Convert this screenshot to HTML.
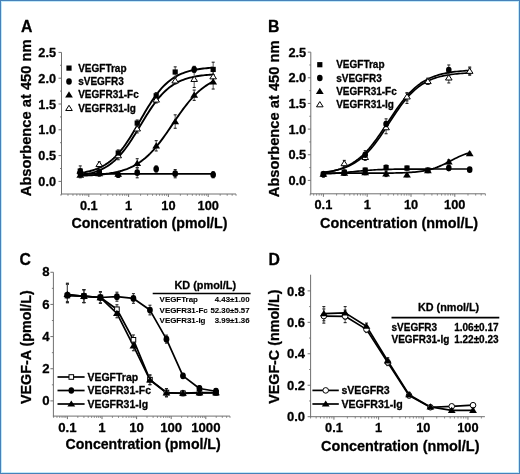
<!DOCTYPE html>
<html><head><meta charset="utf-8"><style>
html,body{margin:0;padding:0;background:#fff;}
#wrap{position:relative;width:520px;height:474px;overflow:hidden;font-family:"Liberation Sans", sans-serif;}
#wrap svg{position:absolute;left:0;top:0;display:block;will-change:transform;}
#frame{position:absolute;left:0;top:0;width:518px;height:472px;border:1px solid #4682b9;box-shadow:inset 0 0 0 1px #c2e8f9;}
</style></head><body><div id="wrap">
<svg width="520" height="474" viewBox="0 0 520 474" font-family='"Liberation Sans", sans-serif'>
<style>text{stroke:#000;stroke-width:0.28px;stroke-linejoin:round;}</style>
<rect x="0" y="0" width="520" height="474" fill="#fff"/>
<text x="20.9" y="31.7" font-size="15.8" text-anchor="start" font-weight="bold">A</text>
<line x1="61.50" y1="52.40" x2="61.50" y2="194.50" stroke="#707070" stroke-width="1" stroke-linecap="butt"/>
<line x1="58.50" y1="181.40" x2="61.50" y2="181.40" stroke="#707070" stroke-width="1" stroke-linecap="butt"/>
<text x="56.0" y="185.972" font-size="12.7" text-anchor="end" font-weight="bold">0.0</text>
<line x1="58.50" y1="155.60" x2="61.50" y2="155.60" stroke="#707070" stroke-width="1" stroke-linecap="butt"/>
<text x="56.0" y="160.172" font-size="12.7" text-anchor="end" font-weight="bold">0.5</text>
<line x1="58.50" y1="129.80" x2="61.50" y2="129.80" stroke="#707070" stroke-width="1" stroke-linecap="butt"/>
<text x="56.0" y="134.372" font-size="12.7" text-anchor="end" font-weight="bold">1.0</text>
<line x1="58.50" y1="104.00" x2="61.50" y2="104.00" stroke="#707070" stroke-width="1" stroke-linecap="butt"/>
<text x="56.0" y="108.572" font-size="12.7" text-anchor="end" font-weight="bold">1.5</text>
<line x1="58.50" y1="78.20" x2="61.50" y2="78.20" stroke="#707070" stroke-width="1" stroke-linecap="butt"/>
<text x="56.0" y="82.772" font-size="12.7" text-anchor="end" font-weight="bold">2.0</text>
<line x1="58.50" y1="52.40" x2="61.50" y2="52.40" stroke="#707070" stroke-width="1" stroke-linecap="butt"/>
<text x="56.0" y="56.97200000000001" font-size="12.7" text-anchor="end" font-weight="bold">2.5</text>
<line x1="60.00" y1="168.50" x2="61.50" y2="168.50" stroke="#707070" stroke-width="0.9" stroke-linecap="butt"/>
<line x1="60.00" y1="142.70" x2="61.50" y2="142.70" stroke="#707070" stroke-width="0.9" stroke-linecap="butt"/>
<line x1="60.00" y1="116.90" x2="61.50" y2="116.90" stroke="#707070" stroke-width="0.9" stroke-linecap="butt"/>
<line x1="60.00" y1="91.10" x2="61.50" y2="91.10" stroke="#707070" stroke-width="0.9" stroke-linecap="butt"/>
<line x1="60.00" y1="65.30" x2="61.50" y2="65.30" stroke="#707070" stroke-width="0.9" stroke-linecap="butt"/>
<line x1="61.00" y1="194.00" x2="236.02" y2="194.00" stroke="#707070" stroke-width="1" stroke-linecap="butt"/>
<line x1="60.98" y1="194.00" x2="60.98" y2="195.80" stroke="#707070" stroke-width="0.8" stroke-linecap="butt"/>
<line x1="67.99" y1="194.00" x2="67.99" y2="195.80" stroke="#707070" stroke-width="0.8" stroke-linecap="butt"/>
<line x1="72.96" y1="194.00" x2="72.96" y2="195.80" stroke="#707070" stroke-width="0.8" stroke-linecap="butt"/>
<line x1="76.82" y1="194.00" x2="76.82" y2="195.80" stroke="#707070" stroke-width="0.8" stroke-linecap="butt"/>
<line x1="79.97" y1="194.00" x2="79.97" y2="195.80" stroke="#707070" stroke-width="0.8" stroke-linecap="butt"/>
<line x1="82.63" y1="194.00" x2="82.63" y2="195.80" stroke="#707070" stroke-width="0.8" stroke-linecap="butt"/>
<line x1="84.94" y1="194.00" x2="84.94" y2="195.80" stroke="#707070" stroke-width="0.8" stroke-linecap="butt"/>
<line x1="86.98" y1="194.00" x2="86.98" y2="195.80" stroke="#707070" stroke-width="0.8" stroke-linecap="butt"/>
<line x1="88.80" y1="194.00" x2="88.80" y2="197.00" stroke="#707070" stroke-width="1" stroke-linecap="butt"/>
<line x1="100.78" y1="194.00" x2="100.78" y2="195.80" stroke="#707070" stroke-width="0.8" stroke-linecap="butt"/>
<line x1="107.79" y1="194.00" x2="107.79" y2="195.80" stroke="#707070" stroke-width="0.8" stroke-linecap="butt"/>
<line x1="112.76" y1="194.00" x2="112.76" y2="195.80" stroke="#707070" stroke-width="0.8" stroke-linecap="butt"/>
<line x1="116.62" y1="194.00" x2="116.62" y2="195.80" stroke="#707070" stroke-width="0.8" stroke-linecap="butt"/>
<line x1="119.77" y1="194.00" x2="119.77" y2="195.80" stroke="#707070" stroke-width="0.8" stroke-linecap="butt"/>
<line x1="122.43" y1="194.00" x2="122.43" y2="195.80" stroke="#707070" stroke-width="0.8" stroke-linecap="butt"/>
<line x1="124.74" y1="194.00" x2="124.74" y2="195.80" stroke="#707070" stroke-width="0.8" stroke-linecap="butt"/>
<line x1="126.78" y1="194.00" x2="126.78" y2="195.80" stroke="#707070" stroke-width="0.8" stroke-linecap="butt"/>
<line x1="128.60" y1="194.00" x2="128.60" y2="197.00" stroke="#707070" stroke-width="1" stroke-linecap="butt"/>
<line x1="140.58" y1="194.00" x2="140.58" y2="195.80" stroke="#707070" stroke-width="0.8" stroke-linecap="butt"/>
<line x1="147.59" y1="194.00" x2="147.59" y2="195.80" stroke="#707070" stroke-width="0.8" stroke-linecap="butt"/>
<line x1="152.56" y1="194.00" x2="152.56" y2="195.80" stroke="#707070" stroke-width="0.8" stroke-linecap="butt"/>
<line x1="156.42" y1="194.00" x2="156.42" y2="195.80" stroke="#707070" stroke-width="0.8" stroke-linecap="butt"/>
<line x1="159.57" y1="194.00" x2="159.57" y2="195.80" stroke="#707070" stroke-width="0.8" stroke-linecap="butt"/>
<line x1="162.23" y1="194.00" x2="162.23" y2="195.80" stroke="#707070" stroke-width="0.8" stroke-linecap="butt"/>
<line x1="164.54" y1="194.00" x2="164.54" y2="195.80" stroke="#707070" stroke-width="0.8" stroke-linecap="butt"/>
<line x1="166.58" y1="194.00" x2="166.58" y2="195.80" stroke="#707070" stroke-width="0.8" stroke-linecap="butt"/>
<line x1="168.40" y1="194.00" x2="168.40" y2="197.00" stroke="#707070" stroke-width="1" stroke-linecap="butt"/>
<line x1="180.38" y1="194.00" x2="180.38" y2="195.80" stroke="#707070" stroke-width="0.8" stroke-linecap="butt"/>
<line x1="187.39" y1="194.00" x2="187.39" y2="195.80" stroke="#707070" stroke-width="0.8" stroke-linecap="butt"/>
<line x1="192.36" y1="194.00" x2="192.36" y2="195.80" stroke="#707070" stroke-width="0.8" stroke-linecap="butt"/>
<line x1="196.22" y1="194.00" x2="196.22" y2="195.80" stroke="#707070" stroke-width="0.8" stroke-linecap="butt"/>
<line x1="199.37" y1="194.00" x2="199.37" y2="195.80" stroke="#707070" stroke-width="0.8" stroke-linecap="butt"/>
<line x1="202.03" y1="194.00" x2="202.03" y2="195.80" stroke="#707070" stroke-width="0.8" stroke-linecap="butt"/>
<line x1="204.34" y1="194.00" x2="204.34" y2="195.80" stroke="#707070" stroke-width="0.8" stroke-linecap="butt"/>
<line x1="206.38" y1="194.00" x2="206.38" y2="195.80" stroke="#707070" stroke-width="0.8" stroke-linecap="butt"/>
<line x1="208.20" y1="194.00" x2="208.20" y2="197.00" stroke="#707070" stroke-width="1" stroke-linecap="butt"/>
<line x1="220.18" y1="194.00" x2="220.18" y2="195.80" stroke="#707070" stroke-width="0.8" stroke-linecap="butt"/>
<line x1="227.19" y1="194.00" x2="227.19" y2="195.80" stroke="#707070" stroke-width="0.8" stroke-linecap="butt"/>
<line x1="232.16" y1="194.00" x2="232.16" y2="195.80" stroke="#707070" stroke-width="0.8" stroke-linecap="butt"/>
<line x1="236.02" y1="194.00" x2="236.02" y2="195.80" stroke="#707070" stroke-width="0.8" stroke-linecap="butt"/>
<text x="88.8" y="209.5" font-size="12.8" text-anchor="middle" font-weight="bold">0.1</text>
<text x="128.6" y="209.5" font-size="12.8" text-anchor="middle" font-weight="bold">1</text>
<text x="168.39999999999998" y="209.5" font-size="12.8" text-anchor="middle" font-weight="bold">10</text>
<text x="208.2" y="209.5" font-size="12.8" text-anchor="middle" font-weight="bold">100</text>
<text x="30.9" y="196.2" font-size="14.7" text-anchor="start" font-weight="bold" transform="rotate(-90 30.9 196.2)">Absorbence at 450 nm</text>
<text x="71.4" y="227.7" font-size="14.2" text-anchor="start" font-weight="bold">Concentration (pmol/L)</text>
<polyline points="80.25,172.99 81.91,172.74 83.57,172.46 85.23,172.15 86.89,171.80 88.55,171.42 90.22,171.00 91.88,170.54 93.54,170.03 95.20,169.46 96.86,168.84 98.52,168.16 100.19,167.42 101.85,166.60 103.51,165.71 105.17,164.73 106.83,163.67 108.49,162.52 110.15,161.26 111.82,159.91 113.48,158.44 115.14,156.87 116.80,155.18 118.46,153.37 120.12,151.44 121.79,149.40 123.45,147.24 125.11,144.96 126.77,142.58 128.43,140.09 130.09,137.51 131.76,134.84 133.42,132.10 135.08,129.29 136.74,126.45 138.40,123.57 140.06,120.67 141.72,117.78 143.39,114.91 145.05,112.07 146.71,109.28 148.37,106.56 150.03,103.91 151.69,101.34 153.36,98.88 155.02,96.52 156.68,94.27 158.34,92.13 160.00,90.11 161.66,88.22 163.33,86.43 164.99,84.77 166.65,83.22 168.31,81.78 169.97,80.45 171.63,79.22 173.29,78.08 174.96,77.04 176.62,76.09 178.28,75.21 179.94,74.41 181.60,73.68 183.26,73.02 184.93,72.41 186.59,71.86 188.25,71.36 189.91,70.91 191.57,70.49 193.23,70.12 194.90,69.79 196.56,69.48 198.22,69.21 199.88,68.96 201.54,68.73 203.20,68.53 204.86,68.35 206.53,68.18 208.19,68.03 209.85,67.90 211.51,67.78 213.17,67.67" fill="none" stroke="#000" stroke-width="1.9" stroke-linejoin="round"/>
<polyline points="80.25,175.14 81.91,174.90 83.57,174.64 85.23,174.36 86.89,174.04 88.55,173.69 90.22,173.30 91.88,172.87 93.54,172.40 95.20,171.88 96.86,171.31 98.52,170.68 100.19,169.99 101.85,169.23 103.51,168.40 105.17,167.50 106.83,166.51 108.49,165.44 110.15,164.27 111.82,163.01 113.48,161.64 115.14,160.18 116.80,158.60 118.46,156.91 120.12,155.10 121.79,153.19 123.45,151.16 125.11,149.02 126.77,146.77 128.43,144.43 130.09,141.99 131.76,139.46 133.42,136.86 135.08,134.20 136.74,131.49 138.40,128.75 140.06,125.99 141.72,123.22 143.39,120.47 145.05,117.74 146.71,115.06 148.37,112.43 150.03,109.88 151.69,107.40 153.36,105.02 155.02,102.73 156.68,100.54 158.34,98.47 160.00,96.50 161.66,94.65 163.33,92.92 164.99,91.29 166.65,89.78 168.31,88.37 169.97,87.07 171.63,85.86 173.29,84.75 174.96,83.73 176.62,82.79 178.28,81.93 179.94,81.15 181.60,80.43 183.26,79.78 184.93,79.18 186.59,78.64 188.25,78.15 189.91,77.70 191.57,77.30 193.23,76.93 194.90,76.60 196.56,76.30 198.22,76.03 199.88,75.78 201.54,75.56 203.20,75.36 204.86,75.18 206.53,75.02 208.19,74.87 209.85,74.74 211.51,74.62 213.17,74.52" fill="none" stroke="#000" stroke-width="1.9" stroke-linejoin="round"/>
<polyline points="80.25,175.69 81.91,175.64 83.57,175.58 85.23,175.51 86.89,175.44 88.55,175.36 90.22,175.28 91.88,175.18 93.54,175.08 95.20,174.97 96.86,174.84 98.52,174.71 100.19,174.56 101.85,174.39 103.51,174.21 105.17,174.02 106.83,173.80 108.49,173.57 110.15,173.31 111.82,173.03 113.48,172.73 115.14,172.39 116.80,172.03 118.46,171.63 120.12,171.20 121.79,170.73 123.45,170.21 125.11,169.65 126.77,169.05 128.43,168.39 130.09,167.68 131.76,166.91 133.42,166.08 135.08,165.18 136.74,164.21 138.40,163.17 140.06,162.06 141.72,160.87 143.39,159.59 145.05,158.23 146.71,156.78 148.37,155.25 150.03,153.62 151.69,151.91 153.36,150.11 155.02,148.22 156.68,146.25 158.34,144.20 160.00,142.07 161.66,139.87 163.33,137.61 164.99,135.29 166.65,132.93 168.31,130.53 169.97,128.10 171.63,125.65 173.29,123.20 174.96,120.75 176.62,118.31 178.28,115.90 179.94,113.53 181.60,111.20 183.26,108.92 184.93,106.71 186.59,104.56 188.25,102.49 189.91,100.50 191.57,98.59 193.23,96.77 194.90,95.04 196.56,93.39 198.22,91.83 199.88,90.36 201.54,88.98 203.20,87.69 204.86,86.47 206.53,85.34 208.19,84.28 209.85,83.30 211.51,82.38 213.17,81.54" fill="none" stroke="#000" stroke-width="1.9" stroke-linejoin="round"/>
<polyline points="80.25,173.92 213.17,173.92" fill="none" stroke="#000" stroke-width="1.9" stroke-linejoin="round"/>
<line x1="80.25" y1="165.92" x2="80.25" y2="176.24" stroke="#555" stroke-width="1" stroke-linecap="butt"/>
<line x1="78.75" y1="165.92" x2="81.75" y2="165.92" stroke="#222" stroke-width="1.1" stroke-linecap="butt"/>
<line x1="78.75" y1="176.24" x2="81.75" y2="176.24" stroke="#222" stroke-width="1.1" stroke-linecap="butt"/>
<line x1="99.24" y1="169.53" x2="99.24" y2="174.69" stroke="#555" stroke-width="1" stroke-linecap="butt"/>
<line x1="97.74" y1="169.53" x2="100.74" y2="169.53" stroke="#222" stroke-width="1.1" stroke-linecap="butt"/>
<line x1="97.74" y1="174.69" x2="100.74" y2="174.69" stroke="#222" stroke-width="1.1" stroke-linecap="butt"/>
<line x1="118.23" y1="149.92" x2="118.23" y2="156.12" stroke="#555" stroke-width="1" stroke-linecap="butt"/>
<line x1="116.73" y1="149.92" x2="119.73" y2="149.92" stroke="#222" stroke-width="1.1" stroke-linecap="butt"/>
<line x1="116.73" y1="156.12" x2="119.73" y2="156.12" stroke="#222" stroke-width="1.1" stroke-linecap="butt"/>
<line x1="137.21" y1="120.00" x2="137.21" y2="126.19" stroke="#555" stroke-width="1" stroke-linecap="butt"/>
<line x1="135.71" y1="120.00" x2="138.71" y2="120.00" stroke="#222" stroke-width="1.1" stroke-linecap="butt"/>
<line x1="135.71" y1="126.19" x2="138.71" y2="126.19" stroke="#222" stroke-width="1.1" stroke-linecap="butt"/>
<line x1="156.20" y1="92.65" x2="156.20" y2="98.84" stroke="#555" stroke-width="1" stroke-linecap="butt"/>
<line x1="154.70" y1="92.65" x2="157.70" y2="92.65" stroke="#222" stroke-width="1.1" stroke-linecap="butt"/>
<line x1="154.70" y1="98.84" x2="157.70" y2="98.84" stroke="#222" stroke-width="1.1" stroke-linecap="butt"/>
<line x1="175.19" y1="66.85" x2="175.19" y2="77.17" stroke="#555" stroke-width="1" stroke-linecap="butt"/>
<line x1="173.69" y1="66.85" x2="176.69" y2="66.85" stroke="#222" stroke-width="1.1" stroke-linecap="butt"/>
<line x1="173.69" y1="77.17" x2="176.69" y2="77.17" stroke="#222" stroke-width="1.1" stroke-linecap="butt"/>
<line x1="194.18" y1="66.33" x2="194.18" y2="72.52" stroke="#555" stroke-width="1" stroke-linecap="butt"/>
<line x1="192.68" y1="66.33" x2="195.68" y2="66.33" stroke="#222" stroke-width="1.1" stroke-linecap="butt"/>
<line x1="192.68" y1="72.52" x2="195.68" y2="72.52" stroke="#222" stroke-width="1.1" stroke-linecap="butt"/>
<line x1="213.17" y1="62.20" x2="213.17" y2="76.65" stroke="#555" stroke-width="1" stroke-linecap="butt"/>
<line x1="211.67" y1="62.20" x2="214.67" y2="62.20" stroke="#222" stroke-width="1.1" stroke-linecap="butt"/>
<line x1="211.67" y1="76.65" x2="214.67" y2="76.65" stroke="#222" stroke-width="1.1" stroke-linecap="butt"/>
<line x1="80.25" y1="170.05" x2="80.25" y2="176.24" stroke="#555" stroke-width="1" stroke-linecap="butt"/>
<line x1="78.75" y1="170.05" x2="81.75" y2="170.05" stroke="#222" stroke-width="1.1" stroke-linecap="butt"/>
<line x1="78.75" y1="176.24" x2="81.75" y2="176.24" stroke="#222" stroke-width="1.1" stroke-linecap="butt"/>
<line x1="99.24" y1="170.05" x2="99.24" y2="175.21" stroke="#555" stroke-width="1" stroke-linecap="butt"/>
<line x1="97.74" y1="170.05" x2="100.74" y2="170.05" stroke="#222" stroke-width="1.1" stroke-linecap="butt"/>
<line x1="97.74" y1="175.21" x2="100.74" y2="175.21" stroke="#222" stroke-width="1.1" stroke-linecap="butt"/>
<line x1="118.23" y1="172.11" x2="118.23" y2="177.27" stroke="#555" stroke-width="1" stroke-linecap="butt"/>
<line x1="116.73" y1="172.11" x2="119.73" y2="172.11" stroke="#222" stroke-width="1.1" stroke-linecap="butt"/>
<line x1="116.73" y1="177.27" x2="119.73" y2="177.27" stroke="#222" stroke-width="1.1" stroke-linecap="butt"/>
<line x1="137.21" y1="167.47" x2="137.21" y2="177.79" stroke="#555" stroke-width="1" stroke-linecap="butt"/>
<line x1="135.71" y1="167.47" x2="138.71" y2="167.47" stroke="#222" stroke-width="1.1" stroke-linecap="butt"/>
<line x1="135.71" y1="177.79" x2="138.71" y2="177.79" stroke="#222" stroke-width="1.1" stroke-linecap="butt"/>
<line x1="156.20" y1="165.92" x2="156.20" y2="172.11" stroke="#555" stroke-width="1" stroke-linecap="butt"/>
<line x1="154.70" y1="165.92" x2="157.70" y2="165.92" stroke="#222" stroke-width="1.1" stroke-linecap="butt"/>
<line x1="154.70" y1="172.11" x2="157.70" y2="172.11" stroke="#222" stroke-width="1.1" stroke-linecap="butt"/>
<line x1="175.19" y1="169.53" x2="175.19" y2="177.79" stroke="#555" stroke-width="1" stroke-linecap="butt"/>
<line x1="173.69" y1="169.53" x2="176.69" y2="169.53" stroke="#222" stroke-width="1.1" stroke-linecap="butt"/>
<line x1="173.69" y1="177.79" x2="176.69" y2="177.79" stroke="#222" stroke-width="1.1" stroke-linecap="butt"/>
<line x1="194.18" y1="66.85" x2="194.18" y2="72.01" stroke="#555" stroke-width="1" stroke-linecap="butt"/>
<line x1="192.68" y1="66.85" x2="195.68" y2="66.85" stroke="#222" stroke-width="1.1" stroke-linecap="butt"/>
<line x1="192.68" y1="72.01" x2="195.68" y2="72.01" stroke="#222" stroke-width="1.1" stroke-linecap="butt"/>
<line x1="213.17" y1="171.60" x2="213.17" y2="177.79" stroke="#555" stroke-width="1" stroke-linecap="butt"/>
<line x1="211.67" y1="171.60" x2="214.67" y2="171.60" stroke="#222" stroke-width="1.1" stroke-linecap="butt"/>
<line x1="211.67" y1="177.79" x2="214.67" y2="177.79" stroke="#222" stroke-width="1.1" stroke-linecap="butt"/>
<line x1="80.25" y1="172.63" x2="80.25" y2="177.79" stroke="#555" stroke-width="1" stroke-linecap="butt"/>
<line x1="78.75" y1="172.63" x2="81.75" y2="172.63" stroke="#222" stroke-width="1.1" stroke-linecap="butt"/>
<line x1="78.75" y1="177.79" x2="81.75" y2="177.79" stroke="#222" stroke-width="1.1" stroke-linecap="butt"/>
<line x1="99.24" y1="171.08" x2="99.24" y2="176.24" stroke="#555" stroke-width="1" stroke-linecap="butt"/>
<line x1="97.74" y1="171.08" x2="100.74" y2="171.08" stroke="#222" stroke-width="1.1" stroke-linecap="butt"/>
<line x1="97.74" y1="176.24" x2="100.74" y2="176.24" stroke="#222" stroke-width="1.1" stroke-linecap="butt"/>
<line x1="118.23" y1="171.60" x2="118.23" y2="176.76" stroke="#555" stroke-width="1" stroke-linecap="butt"/>
<line x1="116.73" y1="171.60" x2="119.73" y2="171.60" stroke="#222" stroke-width="1.1" stroke-linecap="butt"/>
<line x1="116.73" y1="176.76" x2="119.73" y2="176.76" stroke="#222" stroke-width="1.1" stroke-linecap="butt"/>
<line x1="137.21" y1="158.70" x2="137.21" y2="167.98" stroke="#555" stroke-width="1" stroke-linecap="butt"/>
<line x1="135.71" y1="158.70" x2="138.71" y2="158.70" stroke="#222" stroke-width="1.1" stroke-linecap="butt"/>
<line x1="135.71" y1="167.98" x2="138.71" y2="167.98" stroke="#222" stroke-width="1.1" stroke-linecap="butt"/>
<line x1="156.20" y1="140.64" x2="156.20" y2="150.96" stroke="#555" stroke-width="1" stroke-linecap="butt"/>
<line x1="154.70" y1="140.64" x2="157.70" y2="140.64" stroke="#222" stroke-width="1.1" stroke-linecap="butt"/>
<line x1="154.70" y1="150.96" x2="157.70" y2="150.96" stroke="#222" stroke-width="1.1" stroke-linecap="butt"/>
<line x1="175.19" y1="114.84" x2="175.19" y2="128.25" stroke="#555" stroke-width="1" stroke-linecap="butt"/>
<line x1="173.69" y1="114.84" x2="176.69" y2="114.84" stroke="#222" stroke-width="1.1" stroke-linecap="butt"/>
<line x1="173.69" y1="128.25" x2="176.69" y2="128.25" stroke="#222" stroke-width="1.1" stroke-linecap="butt"/>
<line x1="194.18" y1="90.07" x2="194.18" y2="100.39" stroke="#555" stroke-width="1" stroke-linecap="butt"/>
<line x1="192.68" y1="90.07" x2="195.68" y2="90.07" stroke="#222" stroke-width="1.1" stroke-linecap="butt"/>
<line x1="192.68" y1="100.39" x2="195.68" y2="100.39" stroke="#222" stroke-width="1.1" stroke-linecap="butt"/>
<line x1="213.17" y1="74.59" x2="213.17" y2="89.04" stroke="#555" stroke-width="1" stroke-linecap="butt"/>
<line x1="211.67" y1="74.59" x2="214.67" y2="74.59" stroke="#222" stroke-width="1.1" stroke-linecap="butt"/>
<line x1="211.67" y1="89.04" x2="214.67" y2="89.04" stroke="#222" stroke-width="1.1" stroke-linecap="butt"/>
<line x1="80.25" y1="168.50" x2="80.25" y2="173.66" stroke="#555" stroke-width="1" stroke-linecap="butt"/>
<line x1="78.75" y1="168.50" x2="81.75" y2="168.50" stroke="#222" stroke-width="1.1" stroke-linecap="butt"/>
<line x1="78.75" y1="173.66" x2="81.75" y2="173.66" stroke="#222" stroke-width="1.1" stroke-linecap="butt"/>
<line x1="99.24" y1="161.79" x2="99.24" y2="166.95" stroke="#555" stroke-width="1" stroke-linecap="butt"/>
<line x1="97.74" y1="161.79" x2="100.74" y2="161.79" stroke="#222" stroke-width="1.1" stroke-linecap="butt"/>
<line x1="97.74" y1="166.95" x2="100.74" y2="166.95" stroke="#222" stroke-width="1.1" stroke-linecap="butt"/>
<line x1="118.23" y1="151.47" x2="118.23" y2="159.73" stroke="#555" stroke-width="1" stroke-linecap="butt"/>
<line x1="116.73" y1="151.47" x2="119.73" y2="151.47" stroke="#222" stroke-width="1.1" stroke-linecap="butt"/>
<line x1="116.73" y1="159.73" x2="119.73" y2="159.73" stroke="#222" stroke-width="1.1" stroke-linecap="butt"/>
<line x1="137.21" y1="124.64" x2="137.21" y2="132.90" stroke="#555" stroke-width="1" stroke-linecap="butt"/>
<line x1="135.71" y1="124.64" x2="138.71" y2="124.64" stroke="#222" stroke-width="1.1" stroke-linecap="butt"/>
<line x1="135.71" y1="132.90" x2="138.71" y2="132.90" stroke="#222" stroke-width="1.1" stroke-linecap="butt"/>
<line x1="156.20" y1="96.78" x2="156.20" y2="102.97" stroke="#555" stroke-width="1" stroke-linecap="butt"/>
<line x1="154.70" y1="96.78" x2="157.70" y2="96.78" stroke="#222" stroke-width="1.1" stroke-linecap="butt"/>
<line x1="154.70" y1="102.97" x2="157.70" y2="102.97" stroke="#222" stroke-width="1.1" stroke-linecap="butt"/>
<line x1="175.19" y1="77.68" x2="175.19" y2="83.88" stroke="#555" stroke-width="1" stroke-linecap="butt"/>
<line x1="173.69" y1="77.68" x2="176.69" y2="77.68" stroke="#222" stroke-width="1.1" stroke-linecap="butt"/>
<line x1="173.69" y1="83.88" x2="176.69" y2="83.88" stroke="#222" stroke-width="1.1" stroke-linecap="butt"/>
<line x1="194.18" y1="70.98" x2="194.18" y2="87.49" stroke="#555" stroke-width="1" stroke-linecap="butt"/>
<line x1="192.68" y1="70.98" x2="195.68" y2="70.98" stroke="#222" stroke-width="1.1" stroke-linecap="butt"/>
<line x1="192.68" y1="87.49" x2="195.68" y2="87.49" stroke="#222" stroke-width="1.1" stroke-linecap="butt"/>
<line x1="213.17" y1="71.49" x2="213.17" y2="81.81" stroke="#555" stroke-width="1" stroke-linecap="butt"/>
<line x1="211.67" y1="71.49" x2="214.67" y2="71.49" stroke="#222" stroke-width="1.1" stroke-linecap="butt"/>
<line x1="211.67" y1="81.81" x2="214.67" y2="81.81" stroke="#222" stroke-width="1.1" stroke-linecap="butt"/>
<polygon points="80.25,168.06 76.95,173.30 83.55,173.30" fill="#fff" stroke="#000" stroke-width="1" stroke-linejoin="miter"/>
<polygon points="80.25,171.59 76.35,177.83 84.15,177.83" fill="#000"/>
<ellipse cx="80.25" cy="173.14" rx="2.8" ry="3.3" fill="#000"/>
<rect x="77.65" y="168.48" width="5.2" height="5.2" fill="#000"/>
<polygon points="99.24,161.35 95.94,166.59 102.54,166.59" fill="#fff" stroke="#000" stroke-width="1" stroke-linejoin="miter"/>
<polygon points="99.24,170.04 95.34,176.28 103.14,176.28" fill="#000"/>
<ellipse cx="99.24" cy="172.63" rx="2.8" ry="3.3" fill="#000"/>
<rect x="96.64" y="169.51" width="5.2" height="5.2" fill="#000"/>
<polygon points="118.23,152.58 114.93,157.82 121.53,157.82" fill="#fff" stroke="#000" stroke-width="1" stroke-linejoin="miter"/>
<polygon points="118.23,170.56 114.33,176.80 122.13,176.80" fill="#000"/>
<ellipse cx="118.23" cy="174.69" rx="2.8" ry="3.3" fill="#000"/>
<rect x="115.63" y="150.42" width="5.2" height="5.2" fill="#000"/>
<polygon points="137.21,125.75 133.91,130.99 140.51,130.99" fill="#fff" stroke="#000" stroke-width="1" stroke-linejoin="miter"/>
<polygon points="137.21,159.72 133.31,165.96 141.11,165.96" fill="#000"/>
<ellipse cx="137.21" cy="172.63" rx="2.8" ry="3.3" fill="#000"/>
<rect x="134.61" y="120.49" width="5.2" height="5.2" fill="#000"/>
<polygon points="156.20,96.85 152.90,102.09 159.50,102.09" fill="#fff" stroke="#000" stroke-width="1" stroke-linejoin="miter"/>
<polygon points="156.20,142.18 152.30,148.42 160.10,148.42" fill="#000"/>
<ellipse cx="156.20" cy="169.02" rx="2.8" ry="3.3" fill="#000"/>
<rect x="153.60" y="93.14" width="5.2" height="5.2" fill="#000"/>
<polygon points="175.19,77.76 171.89,83.00 178.49,83.00" fill="#fff" stroke="#000" stroke-width="1" stroke-linejoin="miter"/>
<polygon points="175.19,117.92 171.29,124.16 179.09,124.16" fill="#000"/>
<ellipse cx="175.19" cy="173.66" rx="2.8" ry="3.3" fill="#000"/>
<rect x="172.59" y="69.41" width="5.2" height="5.2" fill="#000"/>
<polygon points="194.18,76.21 190.88,81.45 197.48,81.45" fill="#fff" stroke="#000" stroke-width="1" stroke-linejoin="miter"/>
<polygon points="194.18,91.61 190.28,97.85 198.08,97.85" fill="#000"/>
<ellipse cx="194.18" cy="69.43" rx="2.8" ry="3.3" fill="#000"/>
<polygon points="213.17,73.63 209.87,78.87 216.47,78.87" fill="#fff" stroke="#000" stroke-width="1" stroke-linejoin="miter"/>
<polygon points="213.17,78.19 209.27,84.43 217.07,84.43" fill="#000"/>
<ellipse cx="213.17" cy="174.69" rx="2.8" ry="3.3" fill="#000"/>
<rect x="210.57" y="66.83" width="5.2" height="5.2" fill="#000"/>
<rect x="66.40" y="65.50" width="5.2" height="5.2" fill="#000"/>
<text x="78.2" y="71.6" font-size="10" text-anchor="start" font-weight="bold">VEGFTrap</text>
<ellipse cx="69.00" cy="81.50" rx="2.8" ry="3.3" fill="#000"/>
<text x="78.2" y="85.0" font-size="10" text-anchor="start" font-weight="bold">sVEGFR3</text>
<polygon points="69.00,91.28 65.10,97.52 72.90,97.52" fill="#000"/>
<text x="78.2" y="98.39999999999999" font-size="10" text-anchor="start" font-weight="bold">VEGFR31-Fc</text>
<polygon points="69.00,105.28 65.70,110.52 72.30,110.52" fill="#fff" stroke="#000" stroke-width="1" stroke-linejoin="miter"/>
<text x="78.2" y="111.8" font-size="10" text-anchor="start" font-weight="bold">VEGFR31-Ig</text>
<text x="268.0" y="31.7" font-size="15.8" text-anchor="start" font-weight="bold">B</text>
<line x1="310.80" y1="52.15" x2="310.80" y2="194.30" stroke="#707070" stroke-width="1" stroke-linecap="butt"/>
<line x1="307.80" y1="180.40" x2="310.80" y2="180.40" stroke="#707070" stroke-width="1" stroke-linecap="butt"/>
<text x="306.2" y="185.008" font-size="12.8" text-anchor="end" font-weight="bold">0.0</text>
<line x1="307.80" y1="154.75" x2="310.80" y2="154.75" stroke="#707070" stroke-width="1" stroke-linecap="butt"/>
<text x="306.2" y="159.358" font-size="12.8" text-anchor="end" font-weight="bold">0.5</text>
<line x1="307.80" y1="129.10" x2="310.80" y2="129.10" stroke="#707070" stroke-width="1" stroke-linecap="butt"/>
<text x="306.2" y="133.70800000000003" font-size="12.8" text-anchor="end" font-weight="bold">1.0</text>
<line x1="307.80" y1="103.45" x2="310.80" y2="103.45" stroke="#707070" stroke-width="1" stroke-linecap="butt"/>
<text x="306.2" y="108.05800000000002" font-size="12.8" text-anchor="end" font-weight="bold">1.5</text>
<line x1="307.80" y1="77.80" x2="310.80" y2="77.80" stroke="#707070" stroke-width="1" stroke-linecap="butt"/>
<text x="306.2" y="82.40800000000002" font-size="12.8" text-anchor="end" font-weight="bold">2.0</text>
<line x1="307.80" y1="52.15" x2="310.80" y2="52.15" stroke="#707070" stroke-width="1" stroke-linecap="butt"/>
<text x="306.2" y="56.758" font-size="12.8" text-anchor="end" font-weight="bold">2.5</text>
<line x1="309.30" y1="167.58" x2="310.80" y2="167.58" stroke="#707070" stroke-width="0.9" stroke-linecap="butt"/>
<line x1="309.30" y1="141.93" x2="310.80" y2="141.93" stroke="#707070" stroke-width="0.9" stroke-linecap="butt"/>
<line x1="309.30" y1="116.28" x2="310.80" y2="116.28" stroke="#707070" stroke-width="0.9" stroke-linecap="butt"/>
<line x1="309.30" y1="90.63" x2="310.80" y2="90.63" stroke="#707070" stroke-width="0.9" stroke-linecap="butt"/>
<line x1="309.30" y1="64.98" x2="310.80" y2="64.98" stroke="#707070" stroke-width="0.9" stroke-linecap="butt"/>
<line x1="310.30" y1="193.80" x2="485.41" y2="193.80" stroke="#707070" stroke-width="1" stroke-linecap="butt"/>
<line x1="310.21" y1="193.80" x2="310.21" y2="195.60" stroke="#707070" stroke-width="0.8" stroke-linecap="butt"/>
<line x1="313.68" y1="193.80" x2="313.68" y2="195.60" stroke="#707070" stroke-width="0.8" stroke-linecap="butt"/>
<line x1="316.62" y1="193.80" x2="316.62" y2="195.60" stroke="#707070" stroke-width="0.8" stroke-linecap="butt"/>
<line x1="319.16" y1="193.80" x2="319.16" y2="195.60" stroke="#707070" stroke-width="0.8" stroke-linecap="butt"/>
<line x1="321.40" y1="193.80" x2="321.40" y2="195.60" stroke="#707070" stroke-width="0.8" stroke-linecap="butt"/>
<line x1="323.40" y1="193.80" x2="323.40" y2="196.80" stroke="#707070" stroke-width="1" stroke-linecap="butt"/>
<line x1="336.59" y1="193.80" x2="336.59" y2="195.60" stroke="#707070" stroke-width="0.8" stroke-linecap="butt"/>
<line x1="344.30" y1="193.80" x2="344.30" y2="195.60" stroke="#707070" stroke-width="0.8" stroke-linecap="butt"/>
<line x1="349.77" y1="193.80" x2="349.77" y2="195.60" stroke="#707070" stroke-width="0.8" stroke-linecap="butt"/>
<line x1="354.01" y1="193.80" x2="354.01" y2="195.60" stroke="#707070" stroke-width="0.8" stroke-linecap="butt"/>
<line x1="357.48" y1="193.80" x2="357.48" y2="195.60" stroke="#707070" stroke-width="0.8" stroke-linecap="butt"/>
<line x1="360.42" y1="193.80" x2="360.42" y2="195.60" stroke="#707070" stroke-width="0.8" stroke-linecap="butt"/>
<line x1="362.96" y1="193.80" x2="362.96" y2="195.60" stroke="#707070" stroke-width="0.8" stroke-linecap="butt"/>
<line x1="365.20" y1="193.80" x2="365.20" y2="195.60" stroke="#707070" stroke-width="0.8" stroke-linecap="butt"/>
<line x1="367.20" y1="193.80" x2="367.20" y2="196.80" stroke="#707070" stroke-width="1" stroke-linecap="butt"/>
<line x1="380.39" y1="193.80" x2="380.39" y2="195.60" stroke="#707070" stroke-width="0.8" stroke-linecap="butt"/>
<line x1="388.10" y1="193.80" x2="388.10" y2="195.60" stroke="#707070" stroke-width="0.8" stroke-linecap="butt"/>
<line x1="393.57" y1="193.80" x2="393.57" y2="195.60" stroke="#707070" stroke-width="0.8" stroke-linecap="butt"/>
<line x1="397.81" y1="193.80" x2="397.81" y2="195.60" stroke="#707070" stroke-width="0.8" stroke-linecap="butt"/>
<line x1="401.28" y1="193.80" x2="401.28" y2="195.60" stroke="#707070" stroke-width="0.8" stroke-linecap="butt"/>
<line x1="404.22" y1="193.80" x2="404.22" y2="195.60" stroke="#707070" stroke-width="0.8" stroke-linecap="butt"/>
<line x1="406.76" y1="193.80" x2="406.76" y2="195.60" stroke="#707070" stroke-width="0.8" stroke-linecap="butt"/>
<line x1="409.00" y1="193.80" x2="409.00" y2="195.60" stroke="#707070" stroke-width="0.8" stroke-linecap="butt"/>
<line x1="411.00" y1="193.80" x2="411.00" y2="196.80" stroke="#707070" stroke-width="1" stroke-linecap="butt"/>
<line x1="424.19" y1="193.80" x2="424.19" y2="195.60" stroke="#707070" stroke-width="0.8" stroke-linecap="butt"/>
<line x1="431.90" y1="193.80" x2="431.90" y2="195.60" stroke="#707070" stroke-width="0.8" stroke-linecap="butt"/>
<line x1="437.37" y1="193.80" x2="437.37" y2="195.60" stroke="#707070" stroke-width="0.8" stroke-linecap="butt"/>
<line x1="441.61" y1="193.80" x2="441.61" y2="195.60" stroke="#707070" stroke-width="0.8" stroke-linecap="butt"/>
<line x1="445.08" y1="193.80" x2="445.08" y2="195.60" stroke="#707070" stroke-width="0.8" stroke-linecap="butt"/>
<line x1="448.02" y1="193.80" x2="448.02" y2="195.60" stroke="#707070" stroke-width="0.8" stroke-linecap="butt"/>
<line x1="450.56" y1="193.80" x2="450.56" y2="195.60" stroke="#707070" stroke-width="0.8" stroke-linecap="butt"/>
<line x1="452.80" y1="193.80" x2="452.80" y2="195.60" stroke="#707070" stroke-width="0.8" stroke-linecap="butt"/>
<line x1="454.80" y1="193.80" x2="454.80" y2="196.80" stroke="#707070" stroke-width="1" stroke-linecap="butt"/>
<line x1="467.99" y1="193.80" x2="467.99" y2="195.60" stroke="#707070" stroke-width="0.8" stroke-linecap="butt"/>
<line x1="475.70" y1="193.80" x2="475.70" y2="195.60" stroke="#707070" stroke-width="0.8" stroke-linecap="butt"/>
<line x1="481.17" y1="193.80" x2="481.17" y2="195.60" stroke="#707070" stroke-width="0.8" stroke-linecap="butt"/>
<line x1="485.41" y1="193.80" x2="485.41" y2="195.60" stroke="#707070" stroke-width="0.8" stroke-linecap="butt"/>
<text x="323.4" y="209.3" font-size="12.8" text-anchor="middle" font-weight="bold">0.1</text>
<text x="367.2" y="209.3" font-size="12.8" text-anchor="middle" font-weight="bold">1</text>
<text x="411.0" y="209.3" font-size="12.8" text-anchor="middle" font-weight="bold">10</text>
<text x="454.79999999999995" y="209.3" font-size="12.8" text-anchor="middle" font-weight="bold">100</text>
<text x="279.2" y="197.2" font-size="14.7" text-anchor="start" font-weight="bold" transform="rotate(-90 279.2 197.2)">Absorbence at 450 nm</text>
<text x="320.0" y="227.8" font-size="14.38" text-anchor="start" font-weight="bold">Concentration (nmol/L)</text>
<polyline points="323.40,172.78 325.23,172.51 327.06,172.21 328.89,171.88 330.71,171.51 332.54,171.11 334.37,170.66 336.20,170.17 338.03,169.64 339.86,169.05 341.69,168.40 343.51,167.68 345.34,166.91 347.17,166.05 349.00,165.12 350.83,164.11 352.66,163.01 354.49,161.82 356.31,160.53 358.14,159.14 359.97,157.64 361.80,156.03 363.63,154.31 365.46,152.47 367.29,150.53 369.11,148.47 370.94,146.30 372.77,144.02 374.60,141.64 376.43,139.17 378.26,136.62 380.09,133.99 381.91,131.31 383.74,128.57 385.57,125.80 387.40,123.01 389.23,120.22 391.06,117.44 392.89,114.68 394.71,111.97 396.54,109.32 398.37,106.73 400.20,104.23 402.03,101.81 403.86,99.50 405.69,97.28 407.51,95.18 409.34,93.18 411.17,91.30 413.00,89.53 414.83,87.88 416.66,86.33 418.49,84.90 420.31,83.56 422.14,82.33 423.97,81.19 425.80,80.15 427.63,79.18 429.46,78.30 431.29,77.49 433.11,76.75 434.94,76.08 436.77,75.46 438.60,74.90 440.43,74.40 442.26,73.93 444.09,73.51 445.91,73.13 447.74,72.79 449.57,72.48 451.40,72.19 453.23,71.94 455.06,71.71 456.89,71.50 458.71,71.31 460.54,71.14 462.37,70.99 464.20,70.85 466.03,70.72 467.86,70.61 469.69,70.51" fill="none" stroke="#000" stroke-width="1.7" stroke-linejoin="round"/>
<polyline points="323.40,172.35 325.23,172.13 327.06,171.89 328.89,171.62 330.71,171.32 332.54,170.99 334.37,170.63 336.20,170.22 338.03,169.77 339.86,169.27 341.69,168.72 343.51,168.12 345.34,167.45 347.17,166.71 349.00,165.91 350.83,165.02 352.66,164.05 354.49,162.99 356.31,161.83 358.14,160.58 359.97,159.21 361.80,157.74 363.63,156.15 365.46,154.45 367.29,152.63 369.11,150.68 370.94,148.62 372.77,146.44 374.60,144.15 376.43,141.75 378.26,139.25 380.09,136.67 381.91,134.01 383.74,131.28 385.57,128.51 387.40,125.71 389.23,122.89 391.06,120.07 392.89,117.27 394.71,114.51 396.54,111.80 398.37,109.15 400.20,106.59 402.03,104.11 403.86,101.74 405.69,99.47 407.51,97.31 409.34,95.28 411.17,93.36 413.00,91.56 414.83,89.89 416.66,88.32 418.49,86.88 420.31,85.54 422.14,84.30 423.97,83.17 425.80,82.13 427.63,81.18 429.46,80.31 431.29,79.52 433.11,78.80 434.94,78.14 436.77,77.55 438.60,77.01 440.43,76.53 442.26,76.09 444.09,75.69 445.91,75.33 447.74,75.01 449.57,74.72 451.40,74.46 453.23,74.22 455.06,74.01 456.89,73.82 458.71,73.65 460.54,73.49 462.37,73.35 464.20,73.23 466.03,73.12 467.86,73.02 469.69,72.93" fill="none" stroke="#000" stroke-width="1.7" stroke-linejoin="round"/>
<polyline points="323.40,173.81 325.23,173.75 327.06,173.69 328.89,173.61 330.71,173.53 332.54,173.43 334.37,173.33 336.20,173.21 338.03,173.09 339.86,172.95 341.69,172.81 343.51,172.65 345.34,172.49 347.17,172.32 349.00,172.14 350.83,171.95 352.66,171.77 354.49,171.58 356.31,171.39 358.14,171.21 359.97,171.02 361.80,170.85 363.63,170.68 365.46,170.52 367.29,170.37 369.11,170.23 370.94,170.10 372.77,169.98 374.60,169.87 376.43,169.77 378.26,169.69 380.09,169.61 381.91,169.53 383.74,169.47 385.57,169.41 387.40,169.36 389.23,169.32 391.06,169.28 392.89,169.24 394.71,169.21 396.54,169.19 398.37,169.17 400.20,169.15 402.03,169.13 403.86,169.11 405.69,169.10 407.51,169.09 409.34,169.08 411.17,169.07 413.00,169.06 414.83,169.05 416.66,169.05 418.49,169.04 420.31,169.04 422.14,169.04 423.97,169.03 425.80,169.03 427.63,169.03 429.46,169.03 431.29,169.02 433.11,169.02 434.94,169.02 436.77,169.02 438.60,169.02 440.43,169.02 442.26,169.02 444.09,169.02 445.91,169.02 447.74,169.01 449.57,169.01 451.40,169.01 453.23,169.01 455.06,169.01 456.89,169.01 458.71,169.01 460.54,169.01 462.37,169.01 464.20,169.01 466.03,169.01 467.86,169.01 469.69,169.01" fill="none" stroke="#000" stroke-width="1.7" stroke-linejoin="round"/>
<polyline points="323.40,173.22 325.23,173.22 327.06,173.22 328.89,173.22 330.71,173.22 332.54,173.22 334.37,173.22 336.20,173.22 338.03,173.22 339.86,173.22 341.69,173.22 343.51,173.21 345.34,173.21 347.17,173.21 349.00,173.21 350.83,173.21 352.66,173.21 354.49,173.21 356.31,173.21 358.14,173.21 359.97,173.21 361.80,173.20 363.63,173.20 365.46,173.20 367.29,173.20 369.11,173.19 370.94,173.19 372.77,173.18 374.60,173.18 376.43,173.17 378.26,173.16 380.09,173.15 381.91,173.14 383.74,173.13 385.57,173.11 387.40,173.10 389.23,173.08 391.06,173.05 392.89,173.03 394.71,173.00 396.54,172.96 398.37,172.92 400.20,172.87 402.03,172.81 403.86,172.74 405.69,172.67 407.51,172.58 409.34,172.47 411.17,172.35 413.00,172.21 414.83,172.06 416.66,171.87 418.49,171.66 420.31,171.42 422.14,171.15 423.97,170.84 425.80,170.49 427.63,170.09 429.46,169.65 431.29,169.15 433.11,168.60 434.94,168.00 436.77,167.34 438.60,166.62 440.43,165.85 442.26,165.04 444.09,164.18 445.91,163.28 447.74,162.36 449.57,161.42 451.40,160.47 453.23,159.53 455.06,158.60 456.89,157.70 458.71,156.84 460.54,156.02 462.37,155.25 464.20,154.53 466.03,153.86 467.86,153.25 469.69,152.70" fill="none" stroke="#000" stroke-width="1.7" stroke-linejoin="round"/>
<line x1="323.40" y1="171.68" x2="323.40" y2="176.81" stroke="#555" stroke-width="1" stroke-linecap="butt"/>
<line x1="321.90" y1="171.68" x2="324.90" y2="171.68" stroke="#222" stroke-width="1.1" stroke-linecap="butt"/>
<line x1="321.90" y1="176.81" x2="324.90" y2="176.81" stroke="#222" stroke-width="1.1" stroke-linecap="butt"/>
<line x1="344.30" y1="170.14" x2="344.30" y2="175.27" stroke="#555" stroke-width="1" stroke-linecap="butt"/>
<line x1="342.80" y1="170.14" x2="345.80" y2="170.14" stroke="#222" stroke-width="1.1" stroke-linecap="butt"/>
<line x1="342.80" y1="175.27" x2="345.80" y2="175.27" stroke="#222" stroke-width="1.1" stroke-linecap="butt"/>
<line x1="365.20" y1="150.65" x2="365.20" y2="158.85" stroke="#555" stroke-width="1" stroke-linecap="butt"/>
<line x1="363.70" y1="150.65" x2="366.70" y2="150.65" stroke="#222" stroke-width="1.1" stroke-linecap="butt"/>
<line x1="363.70" y1="158.85" x2="366.70" y2="158.85" stroke="#222" stroke-width="1.1" stroke-linecap="butt"/>
<line x1="386.09" y1="118.84" x2="386.09" y2="129.10" stroke="#555" stroke-width="1" stroke-linecap="butt"/>
<line x1="384.59" y1="118.84" x2="387.59" y2="118.84" stroke="#222" stroke-width="1.1" stroke-linecap="butt"/>
<line x1="384.59" y1="129.10" x2="387.59" y2="129.10" stroke="#222" stroke-width="1.1" stroke-linecap="butt"/>
<line x1="406.99" y1="93.19" x2="406.99" y2="103.45" stroke="#555" stroke-width="1" stroke-linecap="butt"/>
<line x1="405.49" y1="93.19" x2="408.49" y2="93.19" stroke="#222" stroke-width="1.1" stroke-linecap="butt"/>
<line x1="405.49" y1="103.45" x2="408.49" y2="103.45" stroke="#222" stroke-width="1.1" stroke-linecap="butt"/>
<line x1="427.89" y1="78.31" x2="427.89" y2="84.47" stroke="#555" stroke-width="1" stroke-linecap="butt"/>
<line x1="426.39" y1="78.31" x2="429.39" y2="78.31" stroke="#222" stroke-width="1.1" stroke-linecap="butt"/>
<line x1="426.39" y1="84.47" x2="429.39" y2="84.47" stroke="#222" stroke-width="1.1" stroke-linecap="butt"/>
<line x1="448.79" y1="64.98" x2="448.79" y2="75.24" stroke="#555" stroke-width="1" stroke-linecap="butt"/>
<line x1="447.29" y1="64.98" x2="450.29" y2="64.98" stroke="#222" stroke-width="1.1" stroke-linecap="butt"/>
<line x1="447.29" y1="75.24" x2="450.29" y2="75.24" stroke="#222" stroke-width="1.1" stroke-linecap="butt"/>
<line x1="469.69" y1="67.03" x2="469.69" y2="75.24" stroke="#555" stroke-width="1" stroke-linecap="butt"/>
<line x1="468.19" y1="67.03" x2="471.19" y2="67.03" stroke="#222" stroke-width="1.1" stroke-linecap="butt"/>
<line x1="468.19" y1="75.24" x2="471.19" y2="75.24" stroke="#222" stroke-width="1.1" stroke-linecap="butt"/>
<line x1="323.40" y1="171.68" x2="323.40" y2="176.81" stroke="#555" stroke-width="1" stroke-linecap="butt"/>
<line x1="321.90" y1="171.68" x2="324.90" y2="171.68" stroke="#222" stroke-width="1.1" stroke-linecap="butt"/>
<line x1="321.90" y1="176.81" x2="324.90" y2="176.81" stroke="#222" stroke-width="1.1" stroke-linecap="butt"/>
<line x1="344.30" y1="160.39" x2="344.30" y2="166.55" stroke="#555" stroke-width="1" stroke-linecap="butt"/>
<line x1="342.80" y1="160.39" x2="345.80" y2="160.39" stroke="#222" stroke-width="1.1" stroke-linecap="butt"/>
<line x1="342.80" y1="166.55" x2="345.80" y2="166.55" stroke="#222" stroke-width="1.1" stroke-linecap="butt"/>
<line x1="365.20" y1="154.24" x2="365.20" y2="160.39" stroke="#555" stroke-width="1" stroke-linecap="butt"/>
<line x1="363.70" y1="154.24" x2="366.70" y2="154.24" stroke="#222" stroke-width="1.1" stroke-linecap="butt"/>
<line x1="363.70" y1="160.39" x2="366.70" y2="160.39" stroke="#222" stroke-width="1.1" stroke-linecap="butt"/>
<line x1="386.09" y1="121.41" x2="386.09" y2="133.72" stroke="#555" stroke-width="1" stroke-linecap="butt"/>
<line x1="384.59" y1="121.41" x2="387.59" y2="121.41" stroke="#222" stroke-width="1.1" stroke-linecap="butt"/>
<line x1="384.59" y1="133.72" x2="387.59" y2="133.72" stroke="#222" stroke-width="1.1" stroke-linecap="butt"/>
<line x1="406.99" y1="92.68" x2="406.99" y2="100.89" stroke="#555" stroke-width="1" stroke-linecap="butt"/>
<line x1="405.49" y1="92.68" x2="408.49" y2="92.68" stroke="#222" stroke-width="1.1" stroke-linecap="butt"/>
<line x1="405.49" y1="100.89" x2="408.49" y2="100.89" stroke="#222" stroke-width="1.1" stroke-linecap="butt"/>
<line x1="427.89" y1="78.31" x2="427.89" y2="84.47" stroke="#555" stroke-width="1" stroke-linecap="butt"/>
<line x1="426.39" y1="78.31" x2="429.39" y2="78.31" stroke="#222" stroke-width="1.1" stroke-linecap="butt"/>
<line x1="426.39" y1="84.47" x2="429.39" y2="84.47" stroke="#222" stroke-width="1.1" stroke-linecap="butt"/>
<line x1="448.79" y1="72.67" x2="448.79" y2="82.93" stroke="#555" stroke-width="1" stroke-linecap="butt"/>
<line x1="447.29" y1="72.67" x2="450.29" y2="72.67" stroke="#222" stroke-width="1.1" stroke-linecap="butt"/>
<line x1="447.29" y1="82.93" x2="450.29" y2="82.93" stroke="#222" stroke-width="1.1" stroke-linecap="butt"/>
<line x1="469.69" y1="68.05" x2="469.69" y2="74.21" stroke="#555" stroke-width="1" stroke-linecap="butt"/>
<line x1="468.19" y1="68.05" x2="471.19" y2="68.05" stroke="#222" stroke-width="1.1" stroke-linecap="butt"/>
<line x1="468.19" y1="74.21" x2="471.19" y2="74.21" stroke="#222" stroke-width="1.1" stroke-linecap="butt"/>
<line x1="323.40" y1="172.71" x2="323.40" y2="175.78" stroke="#555" stroke-width="1" stroke-linecap="butt"/>
<line x1="321.90" y1="172.71" x2="324.90" y2="172.71" stroke="#222" stroke-width="1.1" stroke-linecap="butt"/>
<line x1="321.90" y1="175.78" x2="324.90" y2="175.78" stroke="#222" stroke-width="1.1" stroke-linecap="butt"/>
<line x1="344.30" y1="170.65" x2="344.30" y2="173.73" stroke="#555" stroke-width="1" stroke-linecap="butt"/>
<line x1="342.80" y1="170.65" x2="345.80" y2="170.65" stroke="#222" stroke-width="1.1" stroke-linecap="butt"/>
<line x1="342.80" y1="173.73" x2="345.80" y2="173.73" stroke="#222" stroke-width="1.1" stroke-linecap="butt"/>
<line x1="365.20" y1="168.09" x2="365.20" y2="172.19" stroke="#555" stroke-width="1" stroke-linecap="butt"/>
<line x1="363.70" y1="168.09" x2="366.70" y2="168.09" stroke="#222" stroke-width="1.1" stroke-linecap="butt"/>
<line x1="363.70" y1="172.19" x2="366.70" y2="172.19" stroke="#222" stroke-width="1.1" stroke-linecap="butt"/>
<line x1="386.09" y1="165.01" x2="386.09" y2="170.14" stroke="#555" stroke-width="1" stroke-linecap="butt"/>
<line x1="384.59" y1="165.01" x2="387.59" y2="165.01" stroke="#222" stroke-width="1.1" stroke-linecap="butt"/>
<line x1="384.59" y1="170.14" x2="387.59" y2="170.14" stroke="#222" stroke-width="1.1" stroke-linecap="butt"/>
<line x1="406.99" y1="166.04" x2="406.99" y2="170.14" stroke="#555" stroke-width="1" stroke-linecap="butt"/>
<line x1="405.49" y1="166.04" x2="408.49" y2="166.04" stroke="#222" stroke-width="1.1" stroke-linecap="butt"/>
<line x1="405.49" y1="170.14" x2="408.49" y2="170.14" stroke="#222" stroke-width="1.1" stroke-linecap="butt"/>
<line x1="427.89" y1="168.09" x2="427.89" y2="172.19" stroke="#555" stroke-width="1" stroke-linecap="butt"/>
<line x1="426.39" y1="168.09" x2="429.39" y2="168.09" stroke="#222" stroke-width="1.1" stroke-linecap="butt"/>
<line x1="426.39" y1="172.19" x2="429.39" y2="172.19" stroke="#222" stroke-width="1.1" stroke-linecap="butt"/>
<line x1="448.79" y1="166.04" x2="448.79" y2="170.14" stroke="#555" stroke-width="1" stroke-linecap="butt"/>
<line x1="447.29" y1="166.04" x2="450.29" y2="166.04" stroke="#222" stroke-width="1.1" stroke-linecap="butt"/>
<line x1="447.29" y1="170.14" x2="450.29" y2="170.14" stroke="#222" stroke-width="1.1" stroke-linecap="butt"/>
<line x1="469.69" y1="168.09" x2="469.69" y2="171.17" stroke="#555" stroke-width="1" stroke-linecap="butt"/>
<line x1="468.19" y1="168.09" x2="471.19" y2="168.09" stroke="#222" stroke-width="1.1" stroke-linecap="butt"/>
<line x1="468.19" y1="171.17" x2="471.19" y2="171.17" stroke="#222" stroke-width="1.1" stroke-linecap="butt"/>
<line x1="323.40" y1="172.71" x2="323.40" y2="175.78" stroke="#555" stroke-width="1" stroke-linecap="butt"/>
<line x1="321.90" y1="172.71" x2="324.90" y2="172.71" stroke="#222" stroke-width="1.1" stroke-linecap="butt"/>
<line x1="321.90" y1="175.78" x2="324.90" y2="175.78" stroke="#222" stroke-width="1.1" stroke-linecap="butt"/>
<line x1="344.30" y1="171.68" x2="344.30" y2="174.76" stroke="#555" stroke-width="1" stroke-linecap="butt"/>
<line x1="342.80" y1="171.68" x2="345.80" y2="171.68" stroke="#222" stroke-width="1.1" stroke-linecap="butt"/>
<line x1="342.80" y1="174.76" x2="345.80" y2="174.76" stroke="#222" stroke-width="1.1" stroke-linecap="butt"/>
<line x1="365.20" y1="170.65" x2="365.20" y2="174.76" stroke="#555" stroke-width="1" stroke-linecap="butt"/>
<line x1="363.70" y1="170.65" x2="366.70" y2="170.65" stroke="#222" stroke-width="1.1" stroke-linecap="butt"/>
<line x1="363.70" y1="174.76" x2="366.70" y2="174.76" stroke="#222" stroke-width="1.1" stroke-linecap="butt"/>
<line x1="386.09" y1="171.42" x2="386.09" y2="176.55" stroke="#555" stroke-width="1" stroke-linecap="butt"/>
<line x1="384.59" y1="171.42" x2="387.59" y2="171.42" stroke="#222" stroke-width="1.1" stroke-linecap="butt"/>
<line x1="384.59" y1="176.55" x2="387.59" y2="176.55" stroke="#222" stroke-width="1.1" stroke-linecap="butt"/>
<line x1="406.99" y1="172.71" x2="406.99" y2="176.81" stroke="#555" stroke-width="1" stroke-linecap="butt"/>
<line x1="405.49" y1="172.71" x2="408.49" y2="172.71" stroke="#222" stroke-width="1.1" stroke-linecap="butt"/>
<line x1="405.49" y1="176.81" x2="408.49" y2="176.81" stroke="#222" stroke-width="1.1" stroke-linecap="butt"/>
<line x1="427.89" y1="168.60" x2="427.89" y2="172.71" stroke="#555" stroke-width="1" stroke-linecap="butt"/>
<line x1="426.39" y1="168.60" x2="429.39" y2="168.60" stroke="#222" stroke-width="1.1" stroke-linecap="butt"/>
<line x1="426.39" y1="172.71" x2="429.39" y2="172.71" stroke="#222" stroke-width="1.1" stroke-linecap="butt"/>
<line x1="448.79" y1="159.88" x2="448.79" y2="163.98" stroke="#555" stroke-width="1" stroke-linecap="butt"/>
<line x1="447.29" y1="159.88" x2="450.29" y2="159.88" stroke="#222" stroke-width="1.1" stroke-linecap="butt"/>
<line x1="447.29" y1="163.98" x2="450.29" y2="163.98" stroke="#222" stroke-width="1.1" stroke-linecap="butt"/>
<line x1="469.69" y1="152.19" x2="469.69" y2="155.26" stroke="#555" stroke-width="1" stroke-linecap="butt"/>
<line x1="468.19" y1="152.19" x2="471.19" y2="152.19" stroke="#222" stroke-width="1.1" stroke-linecap="butt"/>
<line x1="468.19" y1="155.26" x2="471.19" y2="155.26" stroke="#222" stroke-width="1.1" stroke-linecap="butt"/>
<rect x="320.80" y="171.64" width="5.2" height="5.2" fill="#000"/>
<polygon points="323.40,170.62 319.50,176.86 327.30,176.86" fill="#000"/>
<ellipse cx="323.40" cy="174.24" rx="2.8" ry="3.3" fill="#000"/>
<rect x="341.70" y="169.59" width="5.2" height="5.2" fill="#000"/>
<polygon points="344.30,169.60 340.40,175.84 348.20,175.84" fill="#000"/>
<polygon points="344.30,160.45 341.00,165.69 347.60,165.69" fill="#fff" stroke="#000" stroke-width="1" stroke-linejoin="miter"/>
<ellipse cx="344.30" cy="172.71" rx="2.8" ry="3.3" fill="#000"/>
<rect x="362.60" y="167.54" width="5.2" height="5.2" fill="#000"/>
<polygon points="365.20,169.09 361.30,175.33 369.10,175.33" fill="#000"/>
<polygon points="365.20,154.30 361.90,159.54 368.50,159.54" fill="#fff" stroke="#000" stroke-width="1" stroke-linejoin="miter"/>
<ellipse cx="365.20" cy="154.75" rx="2.8" ry="3.3" fill="#000"/>
<rect x="383.49" y="164.98" width="5.2" height="5.2" fill="#000"/>
<polygon points="386.09,170.37 382.19,176.61 389.99,176.61" fill="#000"/>
<polygon points="386.09,124.54 382.79,129.78 389.39,129.78" fill="#fff" stroke="#000" stroke-width="1" stroke-linejoin="miter"/>
<ellipse cx="386.09" cy="123.97" rx="2.8" ry="3.3" fill="#000"/>
<rect x="404.39" y="165.49" width="5.2" height="5.2" fill="#000"/>
<polygon points="406.99,171.14 403.09,177.38 410.89,177.38" fill="#000"/>
<polygon points="406.99,93.76 403.69,99.00 410.29,99.00" fill="#fff" stroke="#000" stroke-width="1" stroke-linejoin="miter"/>
<rect x="425.29" y="167.54" width="5.2" height="5.2" fill="#000"/>
<polygon points="427.89,167.03 423.99,173.27 431.79,173.27" fill="#000"/>
<polygon points="427.89,78.37 424.59,83.61 431.19,83.61" fill="#fff" stroke="#000" stroke-width="1" stroke-linejoin="miter"/>
<ellipse cx="448.79" cy="168.09" rx="2.8" ry="3.3" fill="#000"/>
<polygon points="448.79,158.31 444.89,164.55 452.69,164.55" fill="#000"/>
<polygon points="448.79,74.78 445.49,80.02 452.09,80.02" fill="#fff" stroke="#000" stroke-width="1" stroke-linejoin="miter"/>
<ellipse cx="448.79" cy="70.11" rx="2.8" ry="3.3" fill="#000"/>
<ellipse cx="469.69" cy="169.63" rx="2.8" ry="3.3" fill="#000"/>
<polygon points="469.69,150.10 465.79,156.34 473.59,156.34" fill="#000"/>
<polygon points="469.69,68.11 466.39,73.35 472.99,73.35" fill="#fff" stroke="#000" stroke-width="1" stroke-linejoin="miter"/>
<rect x="317.20" y="62.10" width="5.2" height="5.2" fill="#000"/>
<text x="336.2" y="68.2" font-size="10" text-anchor="start" font-weight="bold">VEGFTrap</text>
<ellipse cx="319.80" cy="78.00" rx="2.8" ry="3.3" fill="#000"/>
<text x="336.2" y="81.5" font-size="10" text-anchor="start" font-weight="bold">sVEGFR3</text>
<polygon points="319.80,87.68 315.90,93.92 323.70,93.92" fill="#000"/>
<text x="336.2" y="94.80000000000001" font-size="10" text-anchor="start" font-weight="bold">VEGFR31-Fc</text>
<polygon points="319.80,101.58 316.50,106.82 323.10,106.82" fill="#fff" stroke="#000" stroke-width="1" stroke-linejoin="miter"/>
<text x="336.2" y="108.10000000000001" font-size="10" text-anchor="start" font-weight="bold">VEGFR31-Ig</text>
<text x="19.6" y="264.8" font-size="15.8" text-anchor="start" font-weight="bold">C</text>
<line x1="53.40" y1="272.26" x2="53.40" y2="416.60" stroke="#707070" stroke-width="1" stroke-linecap="butt"/>
<line x1="50.40" y1="400.90" x2="53.40" y2="400.90" stroke="#707070" stroke-width="1" stroke-linecap="butt"/>
<text x="49.5" y="404.99199999999996" font-size="13.2" text-anchor="end" font-weight="bold">0</text>
<line x1="50.40" y1="368.74" x2="53.40" y2="368.74" stroke="#707070" stroke-width="1" stroke-linecap="butt"/>
<text x="49.5" y="372.832" font-size="13.2" text-anchor="end" font-weight="bold">2</text>
<line x1="50.40" y1="336.58" x2="53.40" y2="336.58" stroke="#707070" stroke-width="1" stroke-linecap="butt"/>
<text x="49.5" y="340.67199999999997" font-size="13.2" text-anchor="end" font-weight="bold">4</text>
<line x1="50.40" y1="304.42" x2="53.40" y2="304.42" stroke="#707070" stroke-width="1" stroke-linecap="butt"/>
<text x="49.5" y="308.51199999999994" font-size="13.2" text-anchor="end" font-weight="bold">6</text>
<line x1="50.40" y1="272.26" x2="53.40" y2="272.26" stroke="#707070" stroke-width="1" stroke-linecap="butt"/>
<text x="49.5" y="276.352" font-size="13.2" text-anchor="end" font-weight="bold">8</text>
<line x1="51.90" y1="384.82" x2="53.40" y2="384.82" stroke="#707070" stroke-width="0.9" stroke-linecap="butt"/>
<line x1="51.90" y1="352.66" x2="53.40" y2="352.66" stroke="#707070" stroke-width="0.9" stroke-linecap="butt"/>
<line x1="51.90" y1="320.50" x2="53.40" y2="320.50" stroke="#707070" stroke-width="0.9" stroke-linecap="butt"/>
<line x1="51.90" y1="288.34" x2="53.40" y2="288.34" stroke="#707070" stroke-width="0.9" stroke-linecap="butt"/>
<line x1="52.90" y1="416.10" x2="229.98" y2="416.10" stroke="#707070" stroke-width="1" stroke-linecap="butt"/>
<line x1="53.63" y1="416.10" x2="53.63" y2="417.90" stroke="#707070" stroke-width="0.8" stroke-linecap="butt"/>
<line x1="56.98" y1="416.10" x2="56.98" y2="417.90" stroke="#707070" stroke-width="0.8" stroke-linecap="butt"/>
<line x1="59.72" y1="416.10" x2="59.72" y2="417.90" stroke="#707070" stroke-width="0.8" stroke-linecap="butt"/>
<line x1="62.04" y1="416.10" x2="62.04" y2="417.90" stroke="#707070" stroke-width="0.8" stroke-linecap="butt"/>
<line x1="64.05" y1="416.10" x2="64.05" y2="417.90" stroke="#707070" stroke-width="0.8" stroke-linecap="butt"/>
<line x1="65.82" y1="416.10" x2="65.82" y2="417.90" stroke="#707070" stroke-width="0.8" stroke-linecap="butt"/>
<line x1="67.40" y1="416.10" x2="67.40" y2="419.10" stroke="#707070" stroke-width="1" stroke-linecap="butt"/>
<line x1="77.82" y1="416.10" x2="77.82" y2="417.90" stroke="#707070" stroke-width="0.8" stroke-linecap="butt"/>
<line x1="83.91" y1="416.10" x2="83.91" y2="417.90" stroke="#707070" stroke-width="0.8" stroke-linecap="butt"/>
<line x1="88.23" y1="416.10" x2="88.23" y2="417.90" stroke="#707070" stroke-width="0.8" stroke-linecap="butt"/>
<line x1="91.58" y1="416.10" x2="91.58" y2="417.90" stroke="#707070" stroke-width="0.8" stroke-linecap="butt"/>
<line x1="94.32" y1="416.10" x2="94.32" y2="417.90" stroke="#707070" stroke-width="0.8" stroke-linecap="butt"/>
<line x1="96.64" y1="416.10" x2="96.64" y2="417.90" stroke="#707070" stroke-width="0.8" stroke-linecap="butt"/>
<line x1="98.65" y1="416.10" x2="98.65" y2="417.90" stroke="#707070" stroke-width="0.8" stroke-linecap="butt"/>
<line x1="100.42" y1="416.10" x2="100.42" y2="417.90" stroke="#707070" stroke-width="0.8" stroke-linecap="butt"/>
<line x1="102.00" y1="416.10" x2="102.00" y2="419.10" stroke="#707070" stroke-width="1" stroke-linecap="butt"/>
<line x1="112.42" y1="416.10" x2="112.42" y2="417.90" stroke="#707070" stroke-width="0.8" stroke-linecap="butt"/>
<line x1="118.51" y1="416.10" x2="118.51" y2="417.90" stroke="#707070" stroke-width="0.8" stroke-linecap="butt"/>
<line x1="122.83" y1="416.10" x2="122.83" y2="417.90" stroke="#707070" stroke-width="0.8" stroke-linecap="butt"/>
<line x1="126.18" y1="416.10" x2="126.18" y2="417.90" stroke="#707070" stroke-width="0.8" stroke-linecap="butt"/>
<line x1="128.92" y1="416.10" x2="128.92" y2="417.90" stroke="#707070" stroke-width="0.8" stroke-linecap="butt"/>
<line x1="131.24" y1="416.10" x2="131.24" y2="417.90" stroke="#707070" stroke-width="0.8" stroke-linecap="butt"/>
<line x1="133.25" y1="416.10" x2="133.25" y2="417.90" stroke="#707070" stroke-width="0.8" stroke-linecap="butt"/>
<line x1="135.02" y1="416.10" x2="135.02" y2="417.90" stroke="#707070" stroke-width="0.8" stroke-linecap="butt"/>
<line x1="136.60" y1="416.10" x2="136.60" y2="419.10" stroke="#707070" stroke-width="1" stroke-linecap="butt"/>
<line x1="147.02" y1="416.10" x2="147.02" y2="417.90" stroke="#707070" stroke-width="0.8" stroke-linecap="butt"/>
<line x1="153.11" y1="416.10" x2="153.11" y2="417.90" stroke="#707070" stroke-width="0.8" stroke-linecap="butt"/>
<line x1="157.43" y1="416.10" x2="157.43" y2="417.90" stroke="#707070" stroke-width="0.8" stroke-linecap="butt"/>
<line x1="160.78" y1="416.10" x2="160.78" y2="417.90" stroke="#707070" stroke-width="0.8" stroke-linecap="butt"/>
<line x1="163.52" y1="416.10" x2="163.52" y2="417.90" stroke="#707070" stroke-width="0.8" stroke-linecap="butt"/>
<line x1="165.84" y1="416.10" x2="165.84" y2="417.90" stroke="#707070" stroke-width="0.8" stroke-linecap="butt"/>
<line x1="167.85" y1="416.10" x2="167.85" y2="417.90" stroke="#707070" stroke-width="0.8" stroke-linecap="butt"/>
<line x1="169.62" y1="416.10" x2="169.62" y2="417.90" stroke="#707070" stroke-width="0.8" stroke-linecap="butt"/>
<line x1="171.20" y1="416.10" x2="171.20" y2="419.10" stroke="#707070" stroke-width="1" stroke-linecap="butt"/>
<line x1="181.62" y1="416.10" x2="181.62" y2="417.90" stroke="#707070" stroke-width="0.8" stroke-linecap="butt"/>
<line x1="187.71" y1="416.10" x2="187.71" y2="417.90" stroke="#707070" stroke-width="0.8" stroke-linecap="butt"/>
<line x1="192.03" y1="416.10" x2="192.03" y2="417.90" stroke="#707070" stroke-width="0.8" stroke-linecap="butt"/>
<line x1="195.38" y1="416.10" x2="195.38" y2="417.90" stroke="#707070" stroke-width="0.8" stroke-linecap="butt"/>
<line x1="198.12" y1="416.10" x2="198.12" y2="417.90" stroke="#707070" stroke-width="0.8" stroke-linecap="butt"/>
<line x1="200.44" y1="416.10" x2="200.44" y2="417.90" stroke="#707070" stroke-width="0.8" stroke-linecap="butt"/>
<line x1="202.45" y1="416.10" x2="202.45" y2="417.90" stroke="#707070" stroke-width="0.8" stroke-linecap="butt"/>
<line x1="204.22" y1="416.10" x2="204.22" y2="417.90" stroke="#707070" stroke-width="0.8" stroke-linecap="butt"/>
<line x1="205.80" y1="416.10" x2="205.80" y2="419.10" stroke="#707070" stroke-width="1" stroke-linecap="butt"/>
<line x1="216.22" y1="416.10" x2="216.22" y2="417.90" stroke="#707070" stroke-width="0.8" stroke-linecap="butt"/>
<line x1="222.31" y1="416.10" x2="222.31" y2="417.90" stroke="#707070" stroke-width="0.8" stroke-linecap="butt"/>
<line x1="226.63" y1="416.10" x2="226.63" y2="417.90" stroke="#707070" stroke-width="0.8" stroke-linecap="butt"/>
<line x1="229.98" y1="416.10" x2="229.98" y2="417.90" stroke="#707070" stroke-width="0.8" stroke-linecap="butt"/>
<text x="67.4" y="431.6" font-size="13.2" text-anchor="middle" font-weight="bold">0.1</text>
<text x="102.0" y="431.6" font-size="13.2" text-anchor="middle" font-weight="bold">1</text>
<text x="136.6" y="431.6" font-size="13.2" text-anchor="middle" font-weight="bold">10</text>
<text x="171.2" y="431.6" font-size="13.2" text-anchor="middle" font-weight="bold">100</text>
<text x="205.8" y="431.6" font-size="13.2" text-anchor="middle" font-weight="bold">1000</text>
<text x="31.0" y="404.0" font-size="14.3" text-anchor="start" font-weight="bold" transform="rotate(-90 31.0 404.0)">VEGF-A (pmol/L)</text>
<text x="65.5" y="449.0" font-size="14.12" text-anchor="start" font-weight="bold">Concentration (pmol/L)</text>
<polyline points="67.40,295.58 83.91,296.06 100.42,297.51 116.93,309.24 133.43,339.80 149.94,379.67 166.45,392.54 182.96,393.34 199.47,392.86 215.98,392.86" fill="none" stroke="#000" stroke-width="1.7" stroke-linejoin="round"/>
<polyline points="67.40,295.09 83.91,296.06 100.42,297.51 116.93,296.70 133.43,298.47 149.94,310.05 166.45,339.15 182.96,375.82 199.47,388.52 215.98,391.25" fill="none" stroke="#000" stroke-width="1.7" stroke-linejoin="round"/>
<polyline points="67.40,294.45 83.91,296.38 100.42,297.51 116.93,313.26 133.43,345.91 149.94,380.00 166.45,392.86 182.96,393.18 199.47,392.54 215.98,392.54" fill="none" stroke="#000" stroke-width="1.7" stroke-linejoin="round"/>
<line x1="67.40" y1="283.84" x2="67.40" y2="302.33" stroke="#555" stroke-width="1" stroke-linecap="butt"/>
<line x1="65.90" y1="283.84" x2="68.90" y2="283.84" stroke="#222" stroke-width="1.1" stroke-linecap="butt"/>
<line x1="65.90" y1="302.33" x2="68.90" y2="302.33" stroke="#222" stroke-width="1.1" stroke-linecap="butt"/>
<line x1="83.91" y1="289.63" x2="83.91" y2="302.49" stroke="#555" stroke-width="1" stroke-linecap="butt"/>
<line x1="82.41" y1="289.63" x2="85.41" y2="289.63" stroke="#222" stroke-width="1.1" stroke-linecap="butt"/>
<line x1="82.41" y1="302.49" x2="85.41" y2="302.49" stroke="#222" stroke-width="1.1" stroke-linecap="butt"/>
<line x1="100.42" y1="291.88" x2="100.42" y2="303.13" stroke="#555" stroke-width="1" stroke-linecap="butt"/>
<line x1="98.92" y1="291.88" x2="101.92" y2="291.88" stroke="#222" stroke-width="1.1" stroke-linecap="butt"/>
<line x1="98.92" y1="303.13" x2="101.92" y2="303.13" stroke="#222" stroke-width="1.1" stroke-linecap="butt"/>
<line x1="116.93" y1="292.20" x2="116.93" y2="301.20" stroke="#555" stroke-width="1" stroke-linecap="butt"/>
<line x1="115.43" y1="292.20" x2="118.43" y2="292.20" stroke="#222" stroke-width="1.1" stroke-linecap="butt"/>
<line x1="115.43" y1="301.20" x2="118.43" y2="301.20" stroke="#222" stroke-width="1.1" stroke-linecap="butt"/>
<line x1="133.43" y1="293.65" x2="133.43" y2="303.29" stroke="#555" stroke-width="1" stroke-linecap="butt"/>
<line x1="131.93" y1="293.65" x2="134.93" y2="293.65" stroke="#222" stroke-width="1.1" stroke-linecap="butt"/>
<line x1="131.93" y1="303.29" x2="134.93" y2="303.29" stroke="#222" stroke-width="1.1" stroke-linecap="butt"/>
<line x1="149.94" y1="305.22" x2="149.94" y2="314.87" stroke="#555" stroke-width="1" stroke-linecap="butt"/>
<line x1="148.44" y1="305.22" x2="151.44" y2="305.22" stroke="#222" stroke-width="1.1" stroke-linecap="butt"/>
<line x1="148.44" y1="314.87" x2="151.44" y2="314.87" stroke="#222" stroke-width="1.1" stroke-linecap="butt"/>
<line x1="166.45" y1="335.13" x2="166.45" y2="343.17" stroke="#555" stroke-width="1" stroke-linecap="butt"/>
<line x1="164.95" y1="335.13" x2="167.95" y2="335.13" stroke="#222" stroke-width="1.1" stroke-linecap="butt"/>
<line x1="164.95" y1="343.17" x2="167.95" y2="343.17" stroke="#222" stroke-width="1.1" stroke-linecap="butt"/>
<line x1="182.96" y1="373.40" x2="182.96" y2="378.23" stroke="#555" stroke-width="1" stroke-linecap="butt"/>
<line x1="181.46" y1="373.40" x2="184.46" y2="373.40" stroke="#222" stroke-width="1.1" stroke-linecap="butt"/>
<line x1="181.46" y1="378.23" x2="184.46" y2="378.23" stroke="#222" stroke-width="1.1" stroke-linecap="butt"/>
<line x1="199.47" y1="386.11" x2="199.47" y2="390.93" stroke="#555" stroke-width="1" stroke-linecap="butt"/>
<line x1="197.97" y1="386.11" x2="200.97" y2="386.11" stroke="#222" stroke-width="1.1" stroke-linecap="butt"/>
<line x1="197.97" y1="390.93" x2="200.97" y2="390.93" stroke="#222" stroke-width="1.1" stroke-linecap="butt"/>
<line x1="215.98" y1="388.84" x2="215.98" y2="393.66" stroke="#555" stroke-width="1" stroke-linecap="butt"/>
<line x1="214.48" y1="388.84" x2="217.48" y2="388.84" stroke="#222" stroke-width="1.1" stroke-linecap="butt"/>
<line x1="214.48" y1="393.66" x2="217.48" y2="393.66" stroke="#222" stroke-width="1.1" stroke-linecap="butt"/>
<line x1="67.40" y1="284.32" x2="67.40" y2="302.81" stroke="#555" stroke-width="1" stroke-linecap="butt"/>
<line x1="65.90" y1="284.32" x2="68.90" y2="284.32" stroke="#222" stroke-width="1.1" stroke-linecap="butt"/>
<line x1="65.90" y1="302.81" x2="68.90" y2="302.81" stroke="#222" stroke-width="1.1" stroke-linecap="butt"/>
<line x1="83.91" y1="289.63" x2="83.91" y2="302.49" stroke="#555" stroke-width="1" stroke-linecap="butt"/>
<line x1="82.41" y1="289.63" x2="85.41" y2="289.63" stroke="#222" stroke-width="1.1" stroke-linecap="butt"/>
<line x1="82.41" y1="302.49" x2="85.41" y2="302.49" stroke="#222" stroke-width="1.1" stroke-linecap="butt"/>
<line x1="100.42" y1="291.88" x2="100.42" y2="303.13" stroke="#555" stroke-width="1" stroke-linecap="butt"/>
<line x1="98.92" y1="291.88" x2="101.92" y2="291.88" stroke="#222" stroke-width="1.1" stroke-linecap="butt"/>
<line x1="98.92" y1="303.13" x2="101.92" y2="303.13" stroke="#222" stroke-width="1.1" stroke-linecap="butt"/>
<line x1="116.93" y1="304.74" x2="116.93" y2="313.75" stroke="#555" stroke-width="1" stroke-linecap="butt"/>
<line x1="115.43" y1="304.74" x2="118.43" y2="304.74" stroke="#222" stroke-width="1.1" stroke-linecap="butt"/>
<line x1="115.43" y1="313.75" x2="118.43" y2="313.75" stroke="#222" stroke-width="1.1" stroke-linecap="butt"/>
<line x1="133.43" y1="334.97" x2="133.43" y2="344.62" stroke="#555" stroke-width="1" stroke-linecap="butt"/>
<line x1="131.93" y1="334.97" x2="134.93" y2="334.97" stroke="#222" stroke-width="1.1" stroke-linecap="butt"/>
<line x1="131.93" y1="344.62" x2="134.93" y2="344.62" stroke="#222" stroke-width="1.1" stroke-linecap="butt"/>
<line x1="149.94" y1="374.85" x2="149.94" y2="384.50" stroke="#555" stroke-width="1" stroke-linecap="butt"/>
<line x1="148.44" y1="374.85" x2="151.44" y2="374.85" stroke="#222" stroke-width="1.1" stroke-linecap="butt"/>
<line x1="148.44" y1="384.50" x2="151.44" y2="384.50" stroke="#222" stroke-width="1.1" stroke-linecap="butt"/>
<line x1="166.45" y1="388.52" x2="166.45" y2="396.56" stroke="#555" stroke-width="1" stroke-linecap="butt"/>
<line x1="164.95" y1="388.52" x2="167.95" y2="388.52" stroke="#222" stroke-width="1.1" stroke-linecap="butt"/>
<line x1="164.95" y1="396.56" x2="167.95" y2="396.56" stroke="#222" stroke-width="1.1" stroke-linecap="butt"/>
<line x1="182.96" y1="390.93" x2="182.96" y2="395.75" stroke="#555" stroke-width="1" stroke-linecap="butt"/>
<line x1="181.46" y1="390.93" x2="184.46" y2="390.93" stroke="#222" stroke-width="1.1" stroke-linecap="butt"/>
<line x1="181.46" y1="395.75" x2="184.46" y2="395.75" stroke="#222" stroke-width="1.1" stroke-linecap="butt"/>
<line x1="199.47" y1="390.45" x2="199.47" y2="395.27" stroke="#555" stroke-width="1" stroke-linecap="butt"/>
<line x1="197.97" y1="390.45" x2="200.97" y2="390.45" stroke="#222" stroke-width="1.1" stroke-linecap="butt"/>
<line x1="197.97" y1="395.27" x2="200.97" y2="395.27" stroke="#222" stroke-width="1.1" stroke-linecap="butt"/>
<line x1="215.98" y1="390.45" x2="215.98" y2="395.27" stroke="#555" stroke-width="1" stroke-linecap="butt"/>
<line x1="214.48" y1="390.45" x2="217.48" y2="390.45" stroke="#222" stroke-width="1.1" stroke-linecap="butt"/>
<line x1="214.48" y1="395.27" x2="217.48" y2="395.27" stroke="#222" stroke-width="1.1" stroke-linecap="butt"/>
<line x1="67.40" y1="283.19" x2="67.40" y2="301.69" stroke="#555" stroke-width="1" stroke-linecap="butt"/>
<line x1="65.90" y1="283.19" x2="68.90" y2="283.19" stroke="#222" stroke-width="1.1" stroke-linecap="butt"/>
<line x1="65.90" y1="301.69" x2="68.90" y2="301.69" stroke="#222" stroke-width="1.1" stroke-linecap="butt"/>
<line x1="83.91" y1="289.95" x2="83.91" y2="302.81" stroke="#555" stroke-width="1" stroke-linecap="butt"/>
<line x1="82.41" y1="289.95" x2="85.41" y2="289.95" stroke="#222" stroke-width="1.1" stroke-linecap="butt"/>
<line x1="82.41" y1="302.81" x2="85.41" y2="302.81" stroke="#222" stroke-width="1.1" stroke-linecap="butt"/>
<line x1="100.42" y1="291.88" x2="100.42" y2="303.13" stroke="#555" stroke-width="1" stroke-linecap="butt"/>
<line x1="98.92" y1="291.88" x2="101.92" y2="291.88" stroke="#222" stroke-width="1.1" stroke-linecap="butt"/>
<line x1="98.92" y1="303.13" x2="101.92" y2="303.13" stroke="#222" stroke-width="1.1" stroke-linecap="butt"/>
<line x1="116.93" y1="308.76" x2="116.93" y2="317.77" stroke="#555" stroke-width="1" stroke-linecap="butt"/>
<line x1="115.43" y1="308.76" x2="118.43" y2="308.76" stroke="#222" stroke-width="1.1" stroke-linecap="butt"/>
<line x1="115.43" y1="317.77" x2="118.43" y2="317.77" stroke="#222" stroke-width="1.1" stroke-linecap="butt"/>
<line x1="133.43" y1="341.08" x2="133.43" y2="350.73" stroke="#555" stroke-width="1" stroke-linecap="butt"/>
<line x1="131.93" y1="341.08" x2="134.93" y2="341.08" stroke="#222" stroke-width="1.1" stroke-linecap="butt"/>
<line x1="131.93" y1="350.73" x2="134.93" y2="350.73" stroke="#222" stroke-width="1.1" stroke-linecap="butt"/>
<line x1="149.94" y1="375.17" x2="149.94" y2="384.82" stroke="#555" stroke-width="1" stroke-linecap="butt"/>
<line x1="148.44" y1="375.17" x2="151.44" y2="375.17" stroke="#222" stroke-width="1.1" stroke-linecap="butt"/>
<line x1="148.44" y1="384.82" x2="151.44" y2="384.82" stroke="#222" stroke-width="1.1" stroke-linecap="butt"/>
<line x1="166.45" y1="388.84" x2="166.45" y2="396.88" stroke="#555" stroke-width="1" stroke-linecap="butt"/>
<line x1="164.95" y1="388.84" x2="167.95" y2="388.84" stroke="#222" stroke-width="1.1" stroke-linecap="butt"/>
<line x1="164.95" y1="396.88" x2="167.95" y2="396.88" stroke="#222" stroke-width="1.1" stroke-linecap="butt"/>
<line x1="182.96" y1="390.77" x2="182.96" y2="395.59" stroke="#555" stroke-width="1" stroke-linecap="butt"/>
<line x1="181.46" y1="390.77" x2="184.46" y2="390.77" stroke="#222" stroke-width="1.1" stroke-linecap="butt"/>
<line x1="181.46" y1="395.59" x2="184.46" y2="395.59" stroke="#222" stroke-width="1.1" stroke-linecap="butt"/>
<line x1="199.47" y1="390.13" x2="199.47" y2="394.95" stroke="#555" stroke-width="1" stroke-linecap="butt"/>
<line x1="197.97" y1="390.13" x2="200.97" y2="390.13" stroke="#222" stroke-width="1.1" stroke-linecap="butt"/>
<line x1="197.97" y1="394.95" x2="200.97" y2="394.95" stroke="#222" stroke-width="1.1" stroke-linecap="butt"/>
<line x1="215.98" y1="390.13" x2="215.98" y2="394.95" stroke="#555" stroke-width="1" stroke-linecap="butt"/>
<line x1="214.48" y1="390.13" x2="217.48" y2="390.13" stroke="#222" stroke-width="1.1" stroke-linecap="butt"/>
<line x1="214.48" y1="394.95" x2="217.48" y2="394.95" stroke="#222" stroke-width="1.1" stroke-linecap="butt"/>
<rect x="65.10" y="293.28" width="4.6" height="4.6" fill="#fff" stroke="#000" stroke-width="1"/>
<polygon points="67.40,290.83 63.50,297.07 71.30,297.07" fill="#000"/>
<ellipse cx="67.40" cy="295.09" rx="2.9" ry="3.4" fill="#000"/>
<rect x="81.61" y="293.76" width="4.6" height="4.6" fill="#fff" stroke="#000" stroke-width="1"/>
<polygon points="83.91,292.76 80.01,299.00 87.81,299.00" fill="#000"/>
<ellipse cx="83.91" cy="296.06" rx="2.9" ry="3.4" fill="#000"/>
<rect x="98.12" y="295.21" width="4.6" height="4.6" fill="#fff" stroke="#000" stroke-width="1"/>
<polygon points="100.42,293.89 96.52,300.13 104.32,300.13" fill="#000"/>
<ellipse cx="100.42" cy="297.51" rx="2.9" ry="3.4" fill="#000"/>
<rect x="114.63" y="306.94" width="4.6" height="4.6" fill="#fff" stroke="#000" stroke-width="1"/>
<polygon points="116.93,309.64 113.03,315.88 120.83,315.88" fill="#000"/>
<ellipse cx="116.93" cy="296.70" rx="2.9" ry="3.4" fill="#000"/>
<rect x="131.13" y="337.50" width="4.6" height="4.6" fill="#fff" stroke="#000" stroke-width="1"/>
<polygon points="133.43,342.29 129.53,348.53 137.33,348.53" fill="#000"/>
<ellipse cx="133.43" cy="298.47" rx="2.9" ry="3.4" fill="#000"/>
<rect x="147.64" y="377.37" width="4.6" height="4.6" fill="#fff" stroke="#000" stroke-width="1"/>
<polygon points="149.94,376.38 146.04,382.62 153.84,382.62" fill="#000"/>
<ellipse cx="149.94" cy="310.05" rx="2.9" ry="3.4" fill="#000"/>
<rect x="164.15" y="390.24" width="4.6" height="4.6" fill="#fff" stroke="#000" stroke-width="1"/>
<polygon points="166.45,389.24 162.55,395.48 170.35,395.48" fill="#000"/>
<ellipse cx="166.45" cy="339.15" rx="2.9" ry="3.4" fill="#000"/>
<rect x="180.66" y="391.04" width="4.6" height="4.6" fill="#fff" stroke="#000" stroke-width="1"/>
<polygon points="182.96,389.56 179.06,395.80 186.86,395.80" fill="#000"/>
<ellipse cx="182.96" cy="375.82" rx="2.9" ry="3.4" fill="#000"/>
<rect x="197.17" y="390.56" width="4.6" height="4.6" fill="#fff" stroke="#000" stroke-width="1"/>
<polygon points="199.47,388.92 195.57,395.16 203.37,395.16" fill="#000"/>
<ellipse cx="199.47" cy="388.52" rx="2.9" ry="3.4" fill="#000"/>
<rect x="213.68" y="390.56" width="4.6" height="4.6" fill="#fff" stroke="#000" stroke-width="1"/>
<polygon points="215.98,388.92 212.08,395.16 219.88,395.16" fill="#000"/>
<ellipse cx="215.98" cy="391.25" rx="2.9" ry="3.4" fill="#000"/>
<line x1="57.50" y1="377.00" x2="84.60" y2="377.00" stroke="#000" stroke-width="1.7" stroke-linecap="butt"/>
<rect x="69.00" y="374.70" width="4.6" height="4.6" fill="#fff" stroke="#000" stroke-width="1"/>
<text x="87.4" y="380.9" font-size="10.5" text-anchor="start" font-weight="bold">VEGFTrap</text>
<line x1="57.50" y1="390.50" x2="84.60" y2="390.50" stroke="#000" stroke-width="1.7" stroke-linecap="butt"/>
<ellipse cx="71.30" cy="390.50" rx="2.8" ry="3.3" fill="#000"/>
<text x="87.4" y="394.4" font-size="10.5" text-anchor="start" font-weight="bold">VEGFR31-Fc</text>
<line x1="57.50" y1="404.00" x2="84.60" y2="404.00" stroke="#000" stroke-width="1.7" stroke-linecap="butt"/>
<polygon points="71.30,400.38 67.40,406.62 75.20,406.62" fill="#000"/>
<text x="87.4" y="407.9" font-size="10.5" text-anchor="start" font-weight="bold">VEGFR31-Ig</text>
<text x="205.3" y="289.1" font-size="10.9" text-anchor="middle" font-weight="bold">KD (pmol/L)</text>
<line x1="152.70" y1="293.50" x2="250.60" y2="293.50" stroke="#000" stroke-width="1.6" stroke-linecap="butt"/>
<text x="159.6" y="302.4" font-size="7.95" text-anchor="start" font-weight="bold" style="stroke-width:0.1px">VEGFTrap</text>
<text x="249.6" y="302.4" font-size="7.85" text-anchor="end" font-weight="bold" style="stroke-width:0.1px">4.43±1.00</text>
<text x="159.6" y="312.5" font-size="7.95" text-anchor="start" font-weight="bold" style="stroke-width:0.1px">VEGFR31-Fc</text>
<text x="249.6" y="312.5" font-size="7.85" text-anchor="end" font-weight="bold" style="stroke-width:0.1px">52.30±5.57</text>
<text x="159.6" y="322.59999999999997" font-size="7.95" text-anchor="start" font-weight="bold" style="stroke-width:0.1px">VEGFR31-Ig</text>
<text x="249.6" y="322.59999999999997" font-size="7.85" text-anchor="end" font-weight="bold" style="stroke-width:0.1px">3.99±1.36</text>
<text x="268.6" y="264.6" font-size="15.8" text-anchor="start" font-weight="bold">D</text>
<line x1="310.60" y1="274.70" x2="310.60" y2="417.20" stroke="#707070" stroke-width="1" stroke-linecap="butt"/>
<line x1="307.60" y1="416.70" x2="310.60" y2="416.70" stroke="#707070" stroke-width="1" stroke-linecap="butt"/>
<text x="305.1" y="421.38" font-size="13" text-anchor="end" font-weight="bold">0.0</text>
<line x1="307.60" y1="385.24" x2="310.60" y2="385.24" stroke="#707070" stroke-width="1" stroke-linecap="butt"/>
<text x="305.1" y="389.92" font-size="13" text-anchor="end" font-weight="bold">0.2</text>
<line x1="307.60" y1="353.78" x2="310.60" y2="353.78" stroke="#707070" stroke-width="1" stroke-linecap="butt"/>
<text x="305.1" y="358.46" font-size="13" text-anchor="end" font-weight="bold">0.4</text>
<line x1="307.60" y1="322.32" x2="310.60" y2="322.32" stroke="#707070" stroke-width="1" stroke-linecap="butt"/>
<text x="305.1" y="327.0" font-size="13" text-anchor="end" font-weight="bold">0.6</text>
<line x1="307.60" y1="290.86" x2="310.60" y2="290.86" stroke="#707070" stroke-width="1" stroke-linecap="butt"/>
<text x="305.1" y="295.53999999999996" font-size="13" text-anchor="end" font-weight="bold">0.8</text>
<line x1="309.10" y1="400.97" x2="310.60" y2="400.97" stroke="#707070" stroke-width="0.9" stroke-linecap="butt"/>
<line x1="309.10" y1="369.51" x2="310.60" y2="369.51" stroke="#707070" stroke-width="0.9" stroke-linecap="butt"/>
<line x1="309.10" y1="338.05" x2="310.60" y2="338.05" stroke="#707070" stroke-width="0.9" stroke-linecap="butt"/>
<line x1="309.10" y1="306.59" x2="310.60" y2="306.59" stroke="#707070" stroke-width="0.9" stroke-linecap="butt"/>
<line x1="310.10" y1="416.70" x2="484.92" y2="416.70" stroke="#707070" stroke-width="1" stroke-linecap="butt"/>
<line x1="310.57" y1="416.70" x2="310.57" y2="418.50" stroke="#707070" stroke-width="0.8" stroke-linecap="butt"/>
<line x1="316.15" y1="416.70" x2="316.15" y2="418.50" stroke="#707070" stroke-width="0.8" stroke-linecap="butt"/>
<line x1="320.48" y1="416.70" x2="320.48" y2="418.50" stroke="#707070" stroke-width="0.8" stroke-linecap="butt"/>
<line x1="324.02" y1="416.70" x2="324.02" y2="418.50" stroke="#707070" stroke-width="0.8" stroke-linecap="butt"/>
<line x1="327.01" y1="416.70" x2="327.01" y2="418.50" stroke="#707070" stroke-width="0.8" stroke-linecap="butt"/>
<line x1="329.60" y1="416.70" x2="329.60" y2="418.50" stroke="#707070" stroke-width="0.8" stroke-linecap="butt"/>
<line x1="331.89" y1="416.70" x2="331.89" y2="418.50" stroke="#707070" stroke-width="0.8" stroke-linecap="butt"/>
<line x1="333.93" y1="416.70" x2="333.93" y2="419.70" stroke="#707070" stroke-width="1" stroke-linecap="butt"/>
<line x1="347.38" y1="416.70" x2="347.38" y2="418.50" stroke="#707070" stroke-width="0.8" stroke-linecap="butt"/>
<line x1="355.24" y1="416.70" x2="355.24" y2="418.50" stroke="#707070" stroke-width="0.8" stroke-linecap="butt"/>
<line x1="360.82" y1="416.70" x2="360.82" y2="418.50" stroke="#707070" stroke-width="0.8" stroke-linecap="butt"/>
<line x1="365.15" y1="416.70" x2="365.15" y2="418.50" stroke="#707070" stroke-width="0.8" stroke-linecap="butt"/>
<line x1="368.69" y1="416.70" x2="368.69" y2="418.50" stroke="#707070" stroke-width="0.8" stroke-linecap="butt"/>
<line x1="371.68" y1="416.70" x2="371.68" y2="418.50" stroke="#707070" stroke-width="0.8" stroke-linecap="butt"/>
<line x1="374.27" y1="416.70" x2="374.27" y2="418.50" stroke="#707070" stroke-width="0.8" stroke-linecap="butt"/>
<line x1="376.56" y1="416.70" x2="376.56" y2="418.50" stroke="#707070" stroke-width="0.8" stroke-linecap="butt"/>
<line x1="378.60" y1="416.70" x2="378.60" y2="419.70" stroke="#707070" stroke-width="1" stroke-linecap="butt"/>
<line x1="392.05" y1="416.70" x2="392.05" y2="418.50" stroke="#707070" stroke-width="0.8" stroke-linecap="butt"/>
<line x1="399.91" y1="416.70" x2="399.91" y2="418.50" stroke="#707070" stroke-width="0.8" stroke-linecap="butt"/>
<line x1="405.49" y1="416.70" x2="405.49" y2="418.50" stroke="#707070" stroke-width="0.8" stroke-linecap="butt"/>
<line x1="409.82" y1="416.70" x2="409.82" y2="418.50" stroke="#707070" stroke-width="0.8" stroke-linecap="butt"/>
<line x1="413.36" y1="416.70" x2="413.36" y2="418.50" stroke="#707070" stroke-width="0.8" stroke-linecap="butt"/>
<line x1="416.35" y1="416.70" x2="416.35" y2="418.50" stroke="#707070" stroke-width="0.8" stroke-linecap="butt"/>
<line x1="418.94" y1="416.70" x2="418.94" y2="418.50" stroke="#707070" stroke-width="0.8" stroke-linecap="butt"/>
<line x1="421.23" y1="416.70" x2="421.23" y2="418.50" stroke="#707070" stroke-width="0.8" stroke-linecap="butt"/>
<line x1="423.27" y1="416.70" x2="423.27" y2="419.70" stroke="#707070" stroke-width="1" stroke-linecap="butt"/>
<line x1="436.72" y1="416.70" x2="436.72" y2="418.50" stroke="#707070" stroke-width="0.8" stroke-linecap="butt"/>
<line x1="444.58" y1="416.70" x2="444.58" y2="418.50" stroke="#707070" stroke-width="0.8" stroke-linecap="butt"/>
<line x1="450.16" y1="416.70" x2="450.16" y2="418.50" stroke="#707070" stroke-width="0.8" stroke-linecap="butt"/>
<line x1="454.49" y1="416.70" x2="454.49" y2="418.50" stroke="#707070" stroke-width="0.8" stroke-linecap="butt"/>
<line x1="458.03" y1="416.70" x2="458.03" y2="418.50" stroke="#707070" stroke-width="0.8" stroke-linecap="butt"/>
<line x1="461.02" y1="416.70" x2="461.02" y2="418.50" stroke="#707070" stroke-width="0.8" stroke-linecap="butt"/>
<line x1="463.61" y1="416.70" x2="463.61" y2="418.50" stroke="#707070" stroke-width="0.8" stroke-linecap="butt"/>
<line x1="465.90" y1="416.70" x2="465.90" y2="418.50" stroke="#707070" stroke-width="0.8" stroke-linecap="butt"/>
<line x1="467.94" y1="416.70" x2="467.94" y2="419.70" stroke="#707070" stroke-width="1" stroke-linecap="butt"/>
<line x1="481.39" y1="416.70" x2="481.39" y2="418.50" stroke="#707070" stroke-width="0.8" stroke-linecap="butt"/>
<text x="333.93" y="432.2" font-size="12.8" text-anchor="middle" font-weight="bold">0.1</text>
<text x="378.6" y="432.2" font-size="12.8" text-anchor="middle" font-weight="bold">1</text>
<text x="423.27000000000004" y="432.2" font-size="12.8" text-anchor="middle" font-weight="bold">10</text>
<text x="467.94000000000005" y="432.2" font-size="12.8" text-anchor="middle" font-weight="bold">100</text>
<text x="279.2" y="403.8" font-size="14.3" text-anchor="start" font-weight="bold" transform="rotate(-90 279.2 403.8)">VEGF-C (nmol/L)</text>
<text x="321.0" y="450.5" font-size="14.42" text-anchor="start" font-weight="bold">Concentration (nmol/L)</text>
<polyline points="323.84,316.03 345.15,316.34 366.46,329.40 387.78,362.43 409.09,395.46 430.40,407.26 451.72,406.32 473.03,405.22" fill="none" stroke="#000" stroke-width="1.7" stroke-linejoin="round"/>
<polyline points="323.84,313.67 345.15,312.88 366.46,326.25 387.78,360.86 409.09,394.68 430.40,406.95 451.72,410.41 473.03,410.41" fill="none" stroke="#000" stroke-width="1.7" stroke-linejoin="round"/>
<line x1="323.84" y1="308.95" x2="323.84" y2="323.11" stroke="#555" stroke-width="1" stroke-linecap="butt"/>
<line x1="322.34" y1="308.95" x2="325.34" y2="308.95" stroke="#222" stroke-width="1.1" stroke-linecap="butt"/>
<line x1="322.34" y1="323.11" x2="325.34" y2="323.11" stroke="#222" stroke-width="1.1" stroke-linecap="butt"/>
<line x1="345.15" y1="310.05" x2="345.15" y2="322.63" stroke="#555" stroke-width="1" stroke-linecap="butt"/>
<line x1="343.65" y1="310.05" x2="346.65" y2="310.05" stroke="#222" stroke-width="1.1" stroke-linecap="butt"/>
<line x1="343.65" y1="322.63" x2="346.65" y2="322.63" stroke="#222" stroke-width="1.1" stroke-linecap="butt"/>
<line x1="366.46" y1="326.25" x2="366.46" y2="332.54" stroke="#555" stroke-width="1" stroke-linecap="butt"/>
<line x1="364.96" y1="326.25" x2="367.96" y2="326.25" stroke="#222" stroke-width="1.1" stroke-linecap="butt"/>
<line x1="364.96" y1="332.54" x2="367.96" y2="332.54" stroke="#222" stroke-width="1.1" stroke-linecap="butt"/>
<line x1="387.78" y1="359.29" x2="387.78" y2="365.58" stroke="#555" stroke-width="1" stroke-linecap="butt"/>
<line x1="386.28" y1="359.29" x2="389.28" y2="359.29" stroke="#222" stroke-width="1.1" stroke-linecap="butt"/>
<line x1="386.28" y1="365.58" x2="389.28" y2="365.58" stroke="#222" stroke-width="1.1" stroke-linecap="butt"/>
<line x1="409.09" y1="393.10" x2="409.09" y2="397.82" stroke="#555" stroke-width="1" stroke-linecap="butt"/>
<line x1="407.59" y1="393.10" x2="410.59" y2="393.10" stroke="#222" stroke-width="1.1" stroke-linecap="butt"/>
<line x1="407.59" y1="397.82" x2="410.59" y2="397.82" stroke="#222" stroke-width="1.1" stroke-linecap="butt"/>
<line x1="430.40" y1="405.69" x2="430.40" y2="408.83" stroke="#555" stroke-width="1" stroke-linecap="butt"/>
<line x1="428.90" y1="405.69" x2="431.90" y2="405.69" stroke="#222" stroke-width="1.1" stroke-linecap="butt"/>
<line x1="428.90" y1="408.83" x2="431.90" y2="408.83" stroke="#222" stroke-width="1.1" stroke-linecap="butt"/>
<line x1="451.72" y1="404.75" x2="451.72" y2="407.89" stroke="#555" stroke-width="1" stroke-linecap="butt"/>
<line x1="450.22" y1="404.75" x2="453.22" y2="404.75" stroke="#222" stroke-width="1.1" stroke-linecap="butt"/>
<line x1="450.22" y1="407.89" x2="453.22" y2="407.89" stroke="#222" stroke-width="1.1" stroke-linecap="butt"/>
<line x1="473.03" y1="403.64" x2="473.03" y2="406.79" stroke="#555" stroke-width="1" stroke-linecap="butt"/>
<line x1="471.53" y1="403.64" x2="474.53" y2="403.64" stroke="#222" stroke-width="1.1" stroke-linecap="butt"/>
<line x1="471.53" y1="406.79" x2="474.53" y2="406.79" stroke="#222" stroke-width="1.1" stroke-linecap="butt"/>
<line x1="323.84" y1="306.59" x2="323.84" y2="320.75" stroke="#555" stroke-width="1" stroke-linecap="butt"/>
<line x1="322.34" y1="306.59" x2="325.34" y2="306.59" stroke="#222" stroke-width="1.1" stroke-linecap="butt"/>
<line x1="322.34" y1="320.75" x2="325.34" y2="320.75" stroke="#222" stroke-width="1.1" stroke-linecap="butt"/>
<line x1="345.15" y1="306.59" x2="345.15" y2="319.17" stroke="#555" stroke-width="1" stroke-linecap="butt"/>
<line x1="343.65" y1="306.59" x2="346.65" y2="306.59" stroke="#222" stroke-width="1.1" stroke-linecap="butt"/>
<line x1="343.65" y1="319.17" x2="346.65" y2="319.17" stroke="#222" stroke-width="1.1" stroke-linecap="butt"/>
<line x1="366.46" y1="323.11" x2="366.46" y2="329.40" stroke="#555" stroke-width="1" stroke-linecap="butt"/>
<line x1="364.96" y1="323.11" x2="367.96" y2="323.11" stroke="#222" stroke-width="1.1" stroke-linecap="butt"/>
<line x1="364.96" y1="329.40" x2="367.96" y2="329.40" stroke="#222" stroke-width="1.1" stroke-linecap="butt"/>
<line x1="387.78" y1="357.71" x2="387.78" y2="364.00" stroke="#555" stroke-width="1" stroke-linecap="butt"/>
<line x1="386.28" y1="357.71" x2="389.28" y2="357.71" stroke="#222" stroke-width="1.1" stroke-linecap="butt"/>
<line x1="386.28" y1="364.00" x2="389.28" y2="364.00" stroke="#222" stroke-width="1.1" stroke-linecap="butt"/>
<line x1="409.09" y1="392.32" x2="409.09" y2="397.04" stroke="#555" stroke-width="1" stroke-linecap="butt"/>
<line x1="407.59" y1="392.32" x2="410.59" y2="392.32" stroke="#222" stroke-width="1.1" stroke-linecap="butt"/>
<line x1="407.59" y1="397.04" x2="410.59" y2="397.04" stroke="#222" stroke-width="1.1" stroke-linecap="butt"/>
<line x1="430.40" y1="405.37" x2="430.40" y2="408.52" stroke="#555" stroke-width="1" stroke-linecap="butt"/>
<line x1="428.90" y1="405.37" x2="431.90" y2="405.37" stroke="#222" stroke-width="1.1" stroke-linecap="butt"/>
<line x1="428.90" y1="408.52" x2="431.90" y2="408.52" stroke="#222" stroke-width="1.1" stroke-linecap="butt"/>
<line x1="451.72" y1="408.83" x2="451.72" y2="411.98" stroke="#555" stroke-width="1" stroke-linecap="butt"/>
<line x1="450.22" y1="408.83" x2="453.22" y2="408.83" stroke="#222" stroke-width="1.1" stroke-linecap="butt"/>
<line x1="450.22" y1="411.98" x2="453.22" y2="411.98" stroke="#222" stroke-width="1.1" stroke-linecap="butt"/>
<line x1="473.03" y1="408.83" x2="473.03" y2="411.98" stroke="#555" stroke-width="1" stroke-linecap="butt"/>
<line x1="471.53" y1="408.83" x2="474.53" y2="408.83" stroke="#222" stroke-width="1.1" stroke-linecap="butt"/>
<line x1="471.53" y1="411.98" x2="474.53" y2="411.98" stroke="#222" stroke-width="1.1" stroke-linecap="butt"/>
<circle cx="323.84" cy="316.03" r="2.8" fill="#fff" stroke="#000" stroke-width="1"/>
<polygon points="323.84,310.05 319.94,316.29 327.74,316.29" fill="#000"/>
<circle cx="345.15" cy="316.34" r="2.8" fill="#fff" stroke="#000" stroke-width="1"/>
<polygon points="345.15,309.26 341.25,315.50 349.05,315.50" fill="#000"/>
<circle cx="366.46" cy="329.40" r="2.8" fill="#fff" stroke="#000" stroke-width="1"/>
<polygon points="366.46,322.63 362.56,328.87 370.36,328.87" fill="#000"/>
<circle cx="387.78" cy="362.43" r="2.8" fill="#fff" stroke="#000" stroke-width="1"/>
<polygon points="387.78,357.24 383.88,363.48 391.68,363.48" fill="#000"/>
<circle cx="409.09" cy="395.46" r="2.8" fill="#fff" stroke="#000" stroke-width="1"/>
<polygon points="409.09,391.06 405.19,397.30 412.99,397.30" fill="#000"/>
<circle cx="430.40" cy="407.26" r="2.8" fill="#fff" stroke="#000" stroke-width="1"/>
<polygon points="430.40,403.33 426.50,409.57 434.30,409.57" fill="#000"/>
<circle cx="451.72" cy="406.32" r="2.8" fill="#fff" stroke="#000" stroke-width="1"/>
<polygon points="451.72,406.79 447.82,413.03 455.62,413.03" fill="#000"/>
<circle cx="473.03" cy="405.22" r="2.8" fill="#fff" stroke="#000" stroke-width="1"/>
<polygon points="473.03,406.79 469.13,413.03 476.93,413.03" fill="#000"/>
<line x1="312.40" y1="390.40" x2="338.80" y2="390.40" stroke="#000" stroke-width="1.7" stroke-linecap="butt"/>
<circle cx="325.70" cy="390.40" r="2.8" fill="#fff" stroke="#000" stroke-width="1"/>
<text x="341.4" y="394.29999999999995" font-size="10.6" text-anchor="start" font-weight="bold">sVEGFR3</text>
<line x1="312.40" y1="404.00" x2="338.80" y2="404.00" stroke="#000" stroke-width="1.7" stroke-linecap="butt"/>
<polygon points="325.70,400.38 321.80,406.62 329.60,406.62" fill="#000"/>
<text x="341.4" y="407.9" font-size="10.6" text-anchor="start" font-weight="bold">VEGFR31-Ig</text>
<text x="448.6" y="311.2" font-size="10.8" text-anchor="middle" font-weight="bold">KD (nmol/L)</text>
<line x1="391.50" y1="317.60" x2="499.30" y2="317.60" stroke="#000" stroke-width="1.6" stroke-linecap="butt"/>
<text x="391.5" y="330.8" font-size="10" text-anchor="start" font-weight="bold">sVEGFR3</text>
<text x="498.6" y="330.8" font-size="10" text-anchor="end" font-weight="bold">1.06±0.17</text>
<text x="391.5" y="343.3" font-size="10" text-anchor="start" font-weight="bold">VEGFR31-Ig</text>
<text x="498.6" y="343.3" font-size="10" text-anchor="end" font-weight="bold">1.22±0.23</text>
</svg>
<div id="frame"></div>
</div></body></html>
